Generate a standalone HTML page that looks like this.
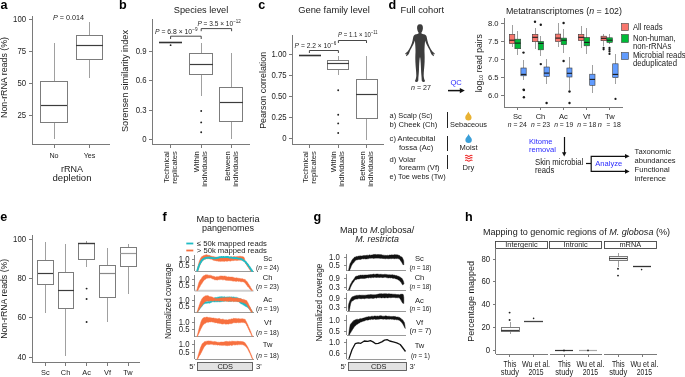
<!DOCTYPE html>
<html><head><meta charset="utf-8"><style>
html,body{margin:0;padding:0;background:#fff;}
svg{display:block;will-change:transform;}
text{font-family:"Liberation Sans", sans-serif;}
</style></head><body>
<svg width="685" height="377" viewBox="0 0 685 377">
<rect width="685" height="377" fill="#fff"/>
<text x="0.4" y="8.9" font-size="12.6" text-anchor="start" fill="#000" font-weight="bold" font-style="normal" >a</text>
<line x1="32.5" y1="16" x2="32.5" y2="144" stroke="#7a7a7a" stroke-width="1" />
<line x1="32" y1="144.5" x2="110" y2="144.5" stroke="#7a7a7a" stroke-width="1" />
<line x1="29" y1="19.5" x2="32" y2="19.5" stroke="#7a7a7a" stroke-width="1" />
<text x="26.1" y="22.000000000000007" font-size="7.8" text-anchor="end" fill="#222" font-weight="normal" font-style="normal" transform="matrix(1,0,0,1.06,0,-1.320)" >100</text>
<line x1="29" y1="51.5" x2="32" y2="51.5" stroke="#7a7a7a" stroke-width="1" />
<text x="26.1" y="54.04999999999999" font-size="7.8" text-anchor="end" fill="#222" font-weight="normal" font-style="normal" transform="matrix(1,0,0,1.06,0,-3.243)" >75</text>
<line x1="29" y1="83.5" x2="32" y2="83.5" stroke="#7a7a7a" stroke-width="1" />
<text x="26.1" y="86.1" font-size="7.8" text-anchor="end" fill="#222" font-weight="normal" font-style="normal" transform="matrix(1,0,0,1.06,0,-5.166)" >50</text>
<line x1="29" y1="115.5" x2="32" y2="115.5" stroke="#7a7a7a" stroke-width="1" />
<text x="26.1" y="118.14999999999999" font-size="7.8" text-anchor="end" fill="#222" font-weight="normal" font-style="normal" transform="matrix(1,0,0,1.06,0,-7.089)" >25</text>
<line x1="54.5" y1="144" x2="54.5" y2="148" stroke="#7a7a7a" stroke-width="1" />
<line x1="89.5" y1="144" x2="89.5" y2="148" stroke="#7a7a7a" stroke-width="1" />
<line x1="54.5" y1="43" x2="54.5" y2="81" stroke="#a0a0a0" stroke-width="1" />
<line x1="54.5" y1="122" x2="54.5" y2="139" stroke="#a0a0a0" stroke-width="1" />
<rect x="40.5" y="81.5" width="27.0" height="41.0" fill="none" stroke="#7c7c7c" stroke-width="1"/>
<line x1="41" y1="105.5" x2="67" y2="105.5" stroke="#3c3c3c" stroke-width="1.2" />
<line x1="89.5" y1="22" x2="89.5" y2="35" stroke="#a0a0a0" stroke-width="1" />
<line x1="89.5" y1="60" x2="89.5" y2="78" stroke="#a0a0a0" stroke-width="1" />
<rect x="76.5" y="35.5" width="26.0" height="24.0" fill="none" stroke="#7c7c7c" stroke-width="1"/>
<line x1="76" y1="45.5" x2="103" y2="45.5" stroke="#3c3c3c" stroke-width="1.2" />
<text x="53" y="19.6" font-size="7.2" text-anchor="start" fill="#222" font-weight="normal" font-style="normal" textLength="31" lengthAdjust="spacingAndGlyphs" transform="matrix(1,0,0,1.06,0,-1.176)" ><tspan font-style="italic">P</tspan> = 0.014</text>
<text x="54" y="158" font-size="7.2" text-anchor="middle" fill="#222" font-weight="normal" font-style="normal" transform="matrix(1,0,0,1.06,0,-9.480)" >No</text>
<text x="89.6" y="158" font-size="7.2" text-anchor="middle" fill="#222" font-weight="normal" font-style="normal" transform="matrix(1,0,0,1.06,0,-9.480)" >Yes</text>
<text x="72" y="172" font-size="9" text-anchor="middle" fill="#1a1a1a" font-weight="normal" font-style="normal" transform="matrix(1,0,0,1.06,0,-10.320)" >rRNA</text>
<text x="72" y="181" font-size="9" text-anchor="middle" fill="#1a1a1a" font-weight="normal" font-style="normal" textLength="39" lengthAdjust="spacingAndGlyphs" transform="matrix(1,0,0,1.06,0,-10.860)" >depletion</text>
<text x="7.5" y="77.5" font-size="8.6" text-anchor="middle" fill="#1a1a1a" font-weight="normal" font-style="normal" textLength="81" lengthAdjust="spacingAndGlyphs" transform="rotate(-90 7.5 77.5) matrix(1,0,0,1.06,0,-4.650)" >Non-rRNA reads (%)</text>
<text x="119.1" y="8.9" font-size="12.6" text-anchor="start" fill="#000" font-weight="bold" font-style="normal" >b</text>
<line x1="152.5" y1="19" x2="152.5" y2="144" stroke="#7a7a7a" stroke-width="1" />
<line x1="152" y1="144.5" x2="250" y2="144.5" stroke="#7a7a7a" stroke-width="1" />
<line x1="149" y1="139.5" x2="152" y2="139.5" stroke="#7a7a7a" stroke-width="1" />
<text x="146.6" y="142.1" font-size="7.8" text-anchor="end" fill="#222" font-weight="normal" font-style="normal" transform="matrix(1,0,0,1.06,0,-8.526)" >0</text>
<line x1="149" y1="110.5" x2="152" y2="110.5" stroke="#7a7a7a" stroke-width="1" />
<text x="146.6" y="112.67" font-size="7.8" text-anchor="end" fill="#222" font-weight="normal" font-style="normal" transform="matrix(1,0,0,1.06,0,-6.760)" >0.3</text>
<line x1="149" y1="80.5" x2="152" y2="80.5" stroke="#7a7a7a" stroke-width="1" />
<text x="146.6" y="83.24000000000001" font-size="7.8" text-anchor="end" fill="#222" font-weight="normal" font-style="normal" transform="matrix(1,0,0,1.06,0,-4.994)" >0.6</text>
<line x1="149" y1="51.5" x2="152" y2="51.5" stroke="#7a7a7a" stroke-width="1" />
<text x="146.6" y="53.81000000000001" font-size="7.8" text-anchor="end" fill="#222" font-weight="normal" font-style="normal" transform="matrix(1,0,0,1.06,0,-3.229)" >0.9</text>
<line x1="170.5" y1="144" x2="170.5" y2="148" stroke="#7a7a7a" stroke-width="1" />
<line x1="201.5" y1="144" x2="201.5" y2="148" stroke="#7a7a7a" stroke-width="1" />
<line x1="231.5" y1="144" x2="231.5" y2="148" stroke="#7a7a7a" stroke-width="1" />
<line x1="159" y1="42.5" x2="182" y2="42.5" stroke="#333" stroke-width="1.6" />
<circle cx="170.6" cy="45.2" r="0.9" fill="#222"/>
<line x1="201.5" y1="43" x2="201.5" y2="54" stroke="#a0a0a0" stroke-width="1" />
<line x1="201.5" y1="74" x2="201.5" y2="96" stroke="#a0a0a0" stroke-width="1" />
<rect x="189.5" y="53.5" width="23.0" height="21.0" fill="none" stroke="#7c7c7c" stroke-width="1"/>
<line x1="190" y1="64.5" x2="213" y2="64.5" stroke="#3c3c3c" stroke-width="1.2" />
<circle cx="201.2" cy="111" r="0.95" fill="#222"/>
<circle cx="201.2" cy="122.4" r="0.95" fill="#222"/>
<circle cx="201.2" cy="132.3" r="0.95" fill="#222"/>
<line x1="231.5" y1="53" x2="231.5" y2="88" stroke="#a0a0a0" stroke-width="1" />
<line x1="231.5" y1="122" x2="231.5" y2="139" stroke="#a0a0a0" stroke-width="1" />
<rect x="219.5" y="87.5" width="23.0" height="34.0" fill="none" stroke="#7c7c7c" stroke-width="1"/>
<line x1="220" y1="102.5" x2="243" y2="102.5" stroke="#3c3c3c" stroke-width="1.2" />
<polyline points="170.6,39 170.6,36.2 201.2,36.2 201.2,39" fill="none" stroke="#333" stroke-width="0.9"/>
<polyline points="201.2,31.2 201.2,28.6 231.6,28.6 231.6,31.2" fill="none" stroke="#333" stroke-width="0.9"/>
<text x="155" y="34" font-size="7" text-anchor="start" fill="#222" font-weight="normal" font-style="normal" textLength="42.5" lengthAdjust="spacingAndGlyphs" transform="matrix(1,0,0,1.06,0,-2.040)" ><tspan font-style="italic">P</tspan> = 6.8 × 10<tspan font-size="4.8" dy="-2.6">−9</tspan></text>
<text x="197.4" y="25.6" font-size="7" text-anchor="start" fill="#222" font-weight="normal" font-style="normal" textLength="43.4" lengthAdjust="spacingAndGlyphs" transform="matrix(1,0,0,1.06,0,-1.536)" ><tspan font-style="italic">P</tspan> = 3.5 × 10<tspan font-size="4.8" dy="-2.6">−12</tspan></text>
<text x="201" y="13.5" font-size="9.2" text-anchor="middle" fill="#1a1a1a" font-weight="normal" font-style="normal" textLength="54.4" lengthAdjust="spacingAndGlyphs" transform="matrix(1,0,0,1.06,0,-0.810)" >Species level</text>
<text x="127.6" y="81" font-size="9" text-anchor="middle" fill="#1a1a1a" font-weight="normal" font-style="normal" textLength="102" lengthAdjust="spacingAndGlyphs" transform="rotate(-90 127.6 81) matrix(1,0,0,1.06,0,-4.860)" >Sorensen similarity index</text>
<text x="169.29999999999998" y="151.2" font-size="7.6" text-anchor="end" fill="#222" font-weight="normal" font-style="normal" transform="rotate(-90 169.29999999999998 151.2) matrix(1,0,0,1.06,0,-9.072)" >Technical</text>
<text x="177.1" y="151.2" font-size="7.6" text-anchor="end" fill="#222" font-weight="normal" font-style="normal" transform="rotate(-90 177.1 151.2) matrix(1,0,0,1.06,0,-9.072)" >replicates</text>
<text x="199.1" y="151.2" font-size="7.6" text-anchor="end" fill="#222" font-weight="normal" font-style="normal" transform="rotate(-90 199.1 151.2) matrix(1,0,0,1.06,0,-9.072)" >Within</text>
<text x="206.9" y="151.2" font-size="7.6" text-anchor="end" fill="#222" font-weight="normal" font-style="normal" transform="rotate(-90 206.9 151.2) matrix(1,0,0,1.06,0,-9.072)" >individuals</text>
<text x="230.0" y="151.2" font-size="7.6" text-anchor="end" fill="#222" font-weight="normal" font-style="normal" transform="rotate(-90 230.0 151.2) matrix(1,0,0,1.06,0,-9.072)" >Between</text>
<text x="237.8" y="151.2" font-size="7.6" text-anchor="end" fill="#222" font-weight="normal" font-style="normal" transform="rotate(-90 237.8 151.2) matrix(1,0,0,1.06,0,-9.072)" >individuals</text>
<text x="258.3" y="8.9" font-size="12.6" text-anchor="start" fill="#000" font-weight="bold" font-style="normal" >c</text>
<line x1="292.5" y1="35" x2="292.5" y2="144" stroke="#7a7a7a" stroke-width="1" />
<line x1="292" y1="144.5" x2="384" y2="144.5" stroke="#7a7a7a" stroke-width="1" />
<line x1="289" y1="138.5" x2="292" y2="138.5" stroke="#7a7a7a" stroke-width="1" />
<text x="286.6" y="141.0" font-size="7.8" text-anchor="end" fill="#222" font-weight="normal" font-style="normal" transform="matrix(1,0,0,1.06,0,-8.460)" >0</text>
<line x1="289" y1="117.5" x2="292" y2="117.5" stroke="#7a7a7a" stroke-width="1" />
<text x="286.6" y="119.975" font-size="7.8" text-anchor="end" fill="#222" font-weight="normal" font-style="normal" transform="matrix(1,0,0,1.06,0,-7.199)" >0.25</text>
<line x1="289" y1="96.5" x2="292" y2="96.5" stroke="#7a7a7a" stroke-width="1" />
<text x="286.6" y="98.95" font-size="7.8" text-anchor="end" fill="#222" font-weight="normal" font-style="normal" transform="matrix(1,0,0,1.06,0,-5.937)" >0.50</text>
<line x1="289" y1="75.5" x2="292" y2="75.5" stroke="#7a7a7a" stroke-width="1" />
<text x="286.6" y="77.92500000000001" font-size="7.8" text-anchor="end" fill="#222" font-weight="normal" font-style="normal" transform="matrix(1,0,0,1.06,0,-4.676)" >0.75</text>
<line x1="289" y1="54.5" x2="292" y2="54.5" stroke="#7a7a7a" stroke-width="1" />
<text x="286.6" y="56.90000000000001" font-size="7.8" text-anchor="end" fill="#222" font-weight="normal" font-style="normal" transform="matrix(1,0,0,1.06,0,-3.414)" >1.00</text>
<line x1="309.5" y1="144" x2="309.5" y2="148" stroke="#7a7a7a" stroke-width="1" />
<line x1="338.5" y1="144" x2="338.5" y2="148" stroke="#7a7a7a" stroke-width="1" />
<line x1="366.5" y1="144" x2="366.5" y2="148" stroke="#7a7a7a" stroke-width="1" />
<line x1="299" y1="55.5" x2="321" y2="55.5" stroke="#333" stroke-width="1.6" />
<line x1="338.5" y1="56" x2="338.5" y2="60" stroke="#a0a0a0" stroke-width="1" />
<line x1="338.5" y1="69" x2="338.5" y2="75" stroke="#a0a0a0" stroke-width="1" />
<rect x="327.5" y="60.5" width="21.0" height="9.0" fill="none" stroke="#7c7c7c" stroke-width="1"/>
<line x1="327" y1="63.5" x2="349" y2="63.5" stroke="#3c3c3c" stroke-width="1.2" />
<circle cx="338.2" cy="90.2" r="0.95" fill="#222"/>
<circle cx="338.2" cy="114.8" r="0.95" fill="#222"/>
<circle cx="338.2" cy="123.4" r="0.95" fill="#222"/>
<circle cx="338.2" cy="133" r="0.95" fill="#222"/>
<line x1="366.5" y1="56" x2="366.5" y2="79" stroke="#a0a0a0" stroke-width="1" />
<line x1="366.5" y1="118" x2="366.5" y2="140" stroke="#a0a0a0" stroke-width="1" />
<rect x="356.5" y="79.5" width="21.0" height="39.0" fill="none" stroke="#7c7c7c" stroke-width="1"/>
<line x1="356" y1="94.5" x2="377" y2="94.5" stroke="#3c3c3c" stroke-width="1.2" />
<polyline points="309.4,53 309.4,50.5 338.4,50.5 338.4,53" fill="none" stroke="#333" stroke-width="0.9"/>
<polyline points="338.4,43 338.4,40.5 366.5,40.5 366.5,43" fill="none" stroke="#333" stroke-width="0.9"/>
<text x="294.6" y="47.7" font-size="7" text-anchor="start" fill="#222" font-weight="normal" font-style="normal" textLength="41.6" lengthAdjust="spacingAndGlyphs" transform="matrix(1,0,0,1.06,0,-2.862)" ><tspan font-style="italic">P</tspan> = 2.2 × 10<tspan font-size="4.8" dy="-2.6">−6</tspan></text>
<text x="338" y="37" font-size="7" text-anchor="start" fill="#222" font-weight="normal" font-style="normal" textLength="39.6" lengthAdjust="spacingAndGlyphs" transform="matrix(1,0,0,1.06,0,-2.220)" ><tspan font-style="italic">P</tspan> = 1.1 × 10<tspan font-size="4.8" dy="-2.6">−11</tspan></text>
<text x="334" y="13.5" font-size="9.2" text-anchor="middle" fill="#1a1a1a" font-weight="normal" font-style="normal" textLength="71.6" lengthAdjust="spacingAndGlyphs" transform="matrix(1,0,0,1.06,0,-0.810)" >Gene family level</text>
<text x="265.8" y="90.3" font-size="9.2" text-anchor="middle" fill="#1a1a1a" font-weight="normal" font-style="normal" textLength="77" lengthAdjust="spacingAndGlyphs" transform="rotate(-90 265.8 90.3) matrix(1,0,0,1.06,0,-5.418)" >Pearson correlation</text>
<text x="308.09999999999997" y="151.2" font-size="7.6" text-anchor="end" fill="#222" font-weight="normal" font-style="normal" transform="rotate(-90 308.09999999999997 151.2) matrix(1,0,0,1.06,0,-9.072)" >Technical</text>
<text x="315.9" y="151.2" font-size="7.6" text-anchor="end" fill="#222" font-weight="normal" font-style="normal" transform="rotate(-90 315.9 151.2) matrix(1,0,0,1.06,0,-9.072)" >replicates</text>
<text x="336.3" y="151.2" font-size="7.6" text-anchor="end" fill="#222" font-weight="normal" font-style="normal" transform="rotate(-90 336.3 151.2) matrix(1,0,0,1.06,0,-9.072)" >Within</text>
<text x="344.1" y="151.2" font-size="7.6" text-anchor="end" fill="#222" font-weight="normal" font-style="normal" transform="rotate(-90 344.1 151.2) matrix(1,0,0,1.06,0,-9.072)" >individuals</text>
<text x="365.2" y="151.2" font-size="7.6" text-anchor="end" fill="#222" font-weight="normal" font-style="normal" transform="rotate(-90 365.2 151.2) matrix(1,0,0,1.06,0,-9.072)" >Between</text>
<text x="373.0" y="151.2" font-size="7.6" text-anchor="end" fill="#222" font-weight="normal" font-style="normal" transform="rotate(-90 373.0 151.2) matrix(1,0,0,1.06,0,-9.072)" >individuals</text>
<text x="388.4" y="8.9" font-size="12.6" text-anchor="start" fill="#000" font-weight="bold" font-style="normal" >d</text>
<text x="400.6" y="12.6" font-size="9" text-anchor="start" fill="#1a1a1a" font-weight="normal" font-style="normal" textLength="43.4" lengthAdjust="spacingAndGlyphs" transform="matrix(1,0,0,1.06,0,-0.756)" >Full cohort</text>
<path d="M419.8,24.3 C417.6,24.3 416.9,26.3 417.1,28.4 C417.3,30.3 418,31.8 418.6,32.4 L418.5,33.6 C417.2,34.2 415.2,34.4 414.2,35.2 C413.2,36.1 413.1,38 412.6,40.5 C411.8,44.5 409.6,49 407.6,51.5 C406.3,52.6 405.2,53.3 405,54.2 C405.6,54.3 406.4,53.8 406.9,53.6 C406.4,54.8 405.8,55.6 406.2,56.2 C407.1,55.8 408.3,54.8 409,53.5 C409.8,51.8 410,50.4 411.2,48.5 C412.8,45.6 414.3,42.6 414.9,40.5 C415.2,44.2 415.6,48.5 415.5,52 C415.3,55.5 415.3,58.2 415.4,62 C415.6,67.2 416.3,71.5 416.3,75.5 C416.3,77.8 415.6,79.6 415.1,80.6 C414.8,81.4 415.3,82 416.6,81.9 C417.9,81.8 418.3,81.2 418.3,79.8 C418.3,77 418.9,73.8 419,69 C419.1,65.5 419.3,61 419.8,57.5 L420.2,57.5 C420.7,61 420.9,65.5 421,69 C421.1,73.8 421.7,77 421.7,79.8 C421.7,81.2 422.1,81.8 423.4,81.9 C424.7,82 425.2,81.4 424.9,80.6 C424.4,79.6 423.7,77.8 423.7,75.5 C423.7,71.5 424.4,67.2 424.6,62 C424.7,58.2 424.7,55.5 424.5,52 C424.4,48.5 424.8,44.2 425.1,40.5 C425.7,42.6 427.2,45.6 428.8,48.5 C430,50.4 430.2,51.8 431,53.5 C431.7,54.8 432.9,55.8 433.8,56.2 C434.2,55.6 433.6,54.8 433.1,53.6 C433.6,53.8 434.4,54.3 435,54.2 C434.8,53.3 433.7,52.6 432.4,51.5 C430.4,49 428.2,44.5 427.4,40.5 C426.9,38 426.8,36.1 425.8,35.2 C424.8,34.4 422.8,34.2 421.5,33.6 L421.4,32.4 C422,31.8 422.7,30.3 422.9,28.4 C423.1,26.3 422.4,24.3 420.2,24.3 Z" fill="#3d3d3d"/>
<text x="411" y="90" font-size="7.2" text-anchor="start" fill="#222" font-weight="normal" font-style="normal" textLength="20" lengthAdjust="spacingAndGlyphs" transform="matrix(1,0,0,1.06,0,-5.400)" ><tspan font-style="italic">n</tspan> = 27</text>
<text x="450.4" y="85" font-size="7.6" text-anchor="start" fill="#2b2bff" font-weight="normal" font-style="normal" transform="matrix(1,0,0,1.06,0,-5.100)" >QC</text>
<line x1="448" y1="90.6" x2="461" y2="90.6" stroke="#111" stroke-width="1.5" />
<path d="M459.8,88 L464.8,90.6 L459.8,93.2 Z" fill="#111"/>
<text x="389.6" y="118" font-size="7.6" text-anchor="start" fill="#222" font-weight="normal" font-style="normal" textLength="42.8" lengthAdjust="spacingAndGlyphs" transform="matrix(1,0,0,1.06,0,-7.080)" >a) Scalp (Sc)</text>
<text x="389.6" y="127" font-size="7.6" text-anchor="start" fill="#222" font-weight="normal" font-style="normal" transform="matrix(1,0,0,1.06,0,-7.620)" >b) Cheek (Ch)</text>
<text x="389.6" y="141.5" font-size="7.6" text-anchor="start" fill="#222" font-weight="normal" font-style="normal" transform="matrix(1,0,0,1.06,0,-8.490)" >c) Antecubital</text>
<text x="399" y="149.7" font-size="7.6" text-anchor="start" fill="#222" font-weight="normal" font-style="normal" transform="matrix(1,0,0,1.06,0,-8.982)" >fossa (Ac)</text>
<text x="389.6" y="161.6" font-size="7.6" text-anchor="start" fill="#222" font-weight="normal" font-style="normal" transform="matrix(1,0,0,1.06,0,-9.696)" >d) Volar</text>
<text x="399" y="170" font-size="7.6" text-anchor="start" fill="#222" font-weight="normal" font-style="normal" transform="matrix(1,0,0,1.06,0,-10.200)" >forearm (Vf)</text>
<text x="389.6" y="179" font-size="7.6" text-anchor="start" fill="#222" font-weight="normal" font-style="normal" textLength="56" lengthAdjust="spacingAndGlyphs" transform="matrix(1,0,0,1.06,0,-10.740)" >e) Toe webs (Tw)</text>
<line x1="447.5" y1="112" x2="447.5" y2="128" stroke="#222" stroke-width="1" />
<line x1="447.5" y1="136" x2="447.5" y2="151" stroke="#222" stroke-width="1" />
<line x1="447.5" y1="155" x2="447.5" y2="169" stroke="#222" stroke-width="1" />
<path d="M468.4,111.6 C469.0,113.8 471.568,115.3312 471.568,117.232 A3.168000000000004,3.168000000000004 0 0 1 465.23199999999997,117.232 C465.23199999999997,115.3312 467.79999999999995,113.8 468.4,111.6 Z" fill="#e9b232"/>
<path d="M468.6,134 C469.20000000000005,136.25 471.84000000000003,137.816 471.84000000000003,139.76 A3.2399999999999998,3.2399999999999998 0 0 1 465.36,139.76 C465.36,137.816 468.0,136.25 468.6,134 Z" fill="#3b9fd8"/>
<text x="450" y="127" font-size="7.6" text-anchor="start" fill="#222" font-weight="normal" font-style="normal" textLength="37" lengthAdjust="spacingAndGlyphs" transform="matrix(1,0,0,1.06,0,-7.620)" >Sebaceous</text>
<text x="459.6" y="150.3" font-size="7.6" text-anchor="start" fill="#222" font-weight="normal" font-style="normal" textLength="18" lengthAdjust="spacingAndGlyphs" transform="matrix(1,0,0,1.06,0,-9.018)" >Moist</text>
<text x="462.6" y="170" font-size="7.6" text-anchor="start" fill="#222" font-weight="normal" font-style="normal" transform="matrix(1,0,0,1.06,0,-10.200)" >Dry</text>
<path d="M465.2,155.8 q1.2,-1.2 2.4,0 t2.4,0 t2.4,0" fill="none" stroke="#ee2a2a" stroke-width="1.05"/>
<path d="M465.2,158.2 q1.2,-1.2 2.4,0 t2.4,0 t2.4,0" fill="none" stroke="#ee2a2a" stroke-width="1.05"/>
<path d="M465.2,160.6 q1.2,-1.2 2.4,0 t2.4,0 t2.4,0" fill="none" stroke="#ee2a2a" stroke-width="1.05"/>
<text x="506" y="14" font-size="8.8" text-anchor="start" fill="#1a1a1a" font-weight="normal" font-style="normal" textLength="116" lengthAdjust="spacingAndGlyphs" transform="matrix(1,0,0,1.06,0,-0.840)" >Metatranscriptomes (<tspan font-style="italic">n</tspan> = 102)</text>
<line x1="504.5" y1="18" x2="504.5" y2="107" stroke="#7a7a7a" stroke-width="1" />
<line x1="504" y1="107.5" x2="623" y2="107.5" stroke="#7a7a7a" stroke-width="1" />
<line x1="501" y1="23.5" x2="504" y2="23.5" stroke="#7a7a7a" stroke-width="1" />
<text x="498.6" y="25.8" font-size="7.6" text-anchor="end" fill="#222" font-weight="normal" font-style="normal" transform="matrix(1,0,0,1.06,0,-1.548)" >8.0</text>
<line x1="501" y1="41.5" x2="504" y2="41.5" stroke="#7a7a7a" stroke-width="1" />
<text x="498.6" y="43.8" font-size="7.6" text-anchor="end" fill="#222" font-weight="normal" font-style="normal" transform="matrix(1,0,0,1.06,0,-2.628)" >7.5</text>
<line x1="501" y1="59.5" x2="504" y2="59.5" stroke="#7a7a7a" stroke-width="1" />
<text x="498.6" y="61.8" font-size="7.6" text-anchor="end" fill="#222" font-weight="normal" font-style="normal" transform="matrix(1,0,0,1.06,0,-3.708)" >7.0</text>
<line x1="501" y1="77.5" x2="504" y2="77.5" stroke="#7a7a7a" stroke-width="1" />
<text x="498.6" y="79.8" font-size="7.6" text-anchor="end" fill="#222" font-weight="normal" font-style="normal" transform="matrix(1,0,0,1.06,0,-4.788)" >6.5</text>
<line x1="501" y1="95.5" x2="504" y2="95.5" stroke="#7a7a7a" stroke-width="1" />
<text x="498.6" y="97.8" font-size="7.6" text-anchor="end" fill="#222" font-weight="normal" font-style="normal" transform="matrix(1,0,0,1.06,0,-5.868)" >6.0</text>
<text x="481.6" y="63.2" font-size="8.6" text-anchor="middle" fill="#1a1a1a" font-weight="normal" font-style="normal" transform="rotate(-90 481.6 63.2) matrix(1,0,0,1.06,0,-3.792)" >log<tspan font-size="5.5" dy="1.8">10</tspan><tspan dy="-1.8"> read pairs</tspan></text>
<line x1="512.5" y1="25" x2="512.5" y2="34" stroke="#a0a0a0" stroke-width="1" />
<line x1="512.5" y1="44" x2="512.5" y2="47" stroke="#a0a0a0" stroke-width="1" />
<rect x="509.3" y="34.3" width="5.499999999999943" height="9.300000000000004" fill="#f8766d" stroke="#3a3a3a" stroke-width="0.6"/>
<line x1="509.3" y1="40.2" x2="514.8" y2="40.2" stroke="#1a1a1a" stroke-width="1.1" />
<line x1="517.5" y1="31" x2="517.5" y2="39" stroke="#a0a0a0" stroke-width="1" />
<line x1="517.5" y1="49" x2="517.5" y2="55" stroke="#a0a0a0" stroke-width="1" />
<rect x="514.9" y="39.2" width="5.800000000000068" height="9.5" fill="#00ba38" stroke="#3a3a3a" stroke-width="0.6"/>
<line x1="514.9" y1="43.1" x2="520.7" y2="43.1" stroke="#1a1a1a" stroke-width="1.1" />
<line x1="523.5" y1="60" x2="523.5" y2="68" stroke="#a0a0a0" stroke-width="1" />
<line x1="523.5" y1="76" x2="523.5" y2="80" stroke="#a0a0a0" stroke-width="1" />
<rect x="520.9" y="68" width="5.300000000000068" height="7.799999999999997" fill="#619cff" stroke="#3a3a3a" stroke-width="0.6"/>
<line x1="520.9" y1="74.4" x2="526.2" y2="74.4" stroke="#1a1a1a" stroke-width="1.1" />
<circle cx="523.5" cy="52.6" r="1.2" fill="#1a1a1a"/>
<circle cx="523.7" cy="89.6" r="1.2" fill="#1a1a1a"/>
<circle cx="523.9" cy="90.1" r="1.2" fill="#1a1a1a"/>
<circle cx="523.9" cy="97.3" r="1.2" fill="#1a1a1a"/>
<line x1="535.5" y1="28" x2="535.5" y2="34" stroke="#a0a0a0" stroke-width="1" />
<line x1="535.5" y1="42" x2="535.5" y2="49" stroke="#a0a0a0" stroke-width="1" />
<rect x="532.3" y="34.3" width="5.600000000000023" height="7.400000000000006" fill="#f8766d" stroke="#3a3a3a" stroke-width="0.6"/>
<line x1="532.3" y1="37.3" x2="537.9" y2="37.3" stroke="#1a1a1a" stroke-width="1.1" />
<line x1="540.5" y1="36" x2="540.5" y2="42" stroke="#a0a0a0" stroke-width="1" />
<line x1="540.5" y1="50" x2="540.5" y2="56" stroke="#a0a0a0" stroke-width="1" />
<rect x="538.2" y="41.5" width="5.2999999999999545" height="8.299999999999997" fill="#00ba38" stroke="#3a3a3a" stroke-width="0.6"/>
<line x1="538.2" y1="43.4" x2="543.5" y2="43.4" stroke="#1a1a1a" stroke-width="1.1" />
<line x1="546.5" y1="59" x2="546.5" y2="67" stroke="#a0a0a0" stroke-width="1" />
<line x1="546.5" y1="76" x2="546.5" y2="84" stroke="#a0a0a0" stroke-width="1" />
<rect x="544" y="67" width="5.2999999999999545" height="9.5" fill="#619cff" stroke="#3a3a3a" stroke-width="0.6"/>
<line x1="544" y1="73.1" x2="549.3" y2="73.1" stroke="#1a1a1a" stroke-width="1.1" />
<circle cx="535" cy="21.7" r="1.2" fill="#1a1a1a"/>
<circle cx="540.8" cy="24.8" r="1.2" fill="#1a1a1a"/>
<circle cx="540.8" cy="64.1" r="1.2" fill="#1a1a1a"/>
<circle cx="546.6" cy="103" r="1.2" fill="#1a1a1a"/>
<line x1="558.5" y1="23" x2="558.5" y2="34" stroke="#a0a0a0" stroke-width="1" />
<line x1="558.5" y1="42" x2="558.5" y2="47" stroke="#a0a0a0" stroke-width="1" />
<rect x="555.4" y="34.1" width="5.300000000000068" height="7.399999999999999" fill="#f8766d" stroke="#3a3a3a" stroke-width="0.6"/>
<line x1="555.4" y1="38.1" x2="560.7" y2="38.1" stroke="#1a1a1a" stroke-width="1.1" />
<line x1="563.5" y1="29" x2="563.5" y2="38" stroke="#a0a0a0" stroke-width="1" />
<line x1="563.5" y1="45" x2="563.5" y2="53" stroke="#a0a0a0" stroke-width="1" />
<rect x="561.2" y="38.1" width="5.399999999999977" height="6.600000000000001" fill="#00ba38" stroke="#3a3a3a" stroke-width="0.6"/>
<line x1="561.2" y1="40.2" x2="566.6" y2="40.2" stroke="#1a1a1a" stroke-width="1.1" />
<line x1="569.5" y1="57" x2="569.5" y2="68" stroke="#a0a0a0" stroke-width="1" />
<line x1="569.5" y1="77" x2="569.5" y2="90" stroke="#a0a0a0" stroke-width="1" />
<rect x="566.9" y="68" width="5.100000000000023" height="9" fill="#619cff" stroke="#3a3a3a" stroke-width="0.6"/>
<line x1="566.9" y1="73.3" x2="572" y2="73.3" stroke="#1a1a1a" stroke-width="1.1" />
<circle cx="563.6" cy="23" r="1.2" fill="#1a1a1a"/>
<circle cx="563.6" cy="61" r="1.2" fill="#1a1a1a"/>
<circle cx="569.5" cy="91.5" r="1.2" fill="#1a1a1a"/>
<circle cx="569.5" cy="103" r="1.2" fill="#1a1a1a"/>
<line x1="581.5" y1="26" x2="581.5" y2="34" stroke="#a0a0a0" stroke-width="1" />
<line x1="581.5" y1="40" x2="581.5" y2="48" stroke="#a0a0a0" stroke-width="1" />
<rect x="578.3" y="34.4" width="5.600000000000023" height="6.100000000000001" fill="#f8766d" stroke="#3a3a3a" stroke-width="0.6"/>
<line x1="578.3" y1="37.3" x2="583.9" y2="37.3" stroke="#1a1a1a" stroke-width="1.1" />
<line x1="586.5" y1="28" x2="586.5" y2="38" stroke="#a0a0a0" stroke-width="1" />
<line x1="586.5" y1="46" x2="586.5" y2="54" stroke="#a0a0a0" stroke-width="1" />
<rect x="584.1" y="37.5" width="5.5" height="8.299999999999997" fill="#00ba38" stroke="#3a3a3a" stroke-width="0.6"/>
<line x1="584.1" y1="42.4" x2="589.6" y2="42.4" stroke="#1a1a1a" stroke-width="1.1" />
<line x1="592.5" y1="65" x2="592.5" y2="74" stroke="#a0a0a0" stroke-width="1" />
<line x1="592.5" y1="85" x2="592.5" y2="93" stroke="#a0a0a0" stroke-width="1" />
<rect x="589.7" y="74.2" width="5.2999999999999545" height="11.099999999999994" fill="#619cff" stroke="#3a3a3a" stroke-width="0.6"/>
<line x1="589.7" y1="79.4" x2="595" y2="79.4" stroke="#1a1a1a" stroke-width="1.1" />
<line x1="603.5" y1="34" x2="603.5" y2="36" stroke="#a0a0a0" stroke-width="1" />
<line x1="603.5" y1="41" x2="603.5" y2="46" stroke="#a0a0a0" stroke-width="1" />
<rect x="601" y="36.2" width="5.600000000000023" height="4.5" fill="#f8766d" stroke="#3a3a3a" stroke-width="0.6"/>
<line x1="601" y1="38.3" x2="606.6" y2="38.3" stroke="#1a1a1a" stroke-width="1.1" />
<line x1="609.5" y1="34" x2="609.5" y2="38" stroke="#a0a0a0" stroke-width="1" />
<line x1="609.5" y1="42" x2="609.5" y2="44" stroke="#a0a0a0" stroke-width="1" />
<rect x="606.9" y="37.8" width="5.5" height="4.600000000000001" fill="#00ba38" stroke="#3a3a3a" stroke-width="0.6"/>
<line x1="606.9" y1="40.2" x2="612.4" y2="40.2" stroke="#1a1a1a" stroke-width="1.1" />
<line x1="615.5" y1="54" x2="615.5" y2="64" stroke="#a0a0a0" stroke-width="1" />
<line x1="615.5" y1="78" x2="615.5" y2="84" stroke="#a0a0a0" stroke-width="1" />
<rect x="612.7" y="63.8" width="5.399999999999977" height="13.799999999999997" fill="#619cff" stroke="#3a3a3a" stroke-width="0.6"/>
<line x1="612.7" y1="74.4" x2="618.1" y2="74.4" stroke="#1a1a1a" stroke-width="1.1" />
<circle cx="603.6" cy="47.8" r="1.1" fill="#1a1a1a"/>
<circle cx="603.6" cy="49.3" r="1.1" fill="#1a1a1a"/>
<circle cx="609.5" cy="47.9" r="1.1" fill="#1a1a1a"/>
<circle cx="609.5" cy="49.7" r="1.1" fill="#1a1a1a"/>
<circle cx="609.5" cy="51.4" r="1.1" fill="#1a1a1a"/>
<circle cx="609.5" cy="53.9" r="1.1" fill="#1a1a1a"/>
<circle cx="615.5" cy="98.9" r="1.1" fill="#1a1a1a"/>
<line x1="517.5" y1="107" x2="517.5" y2="110" stroke="#7a7a7a" stroke-width="1" />
<text x="517.4" y="118.7" font-size="7.6" text-anchor="middle" fill="#222" font-weight="normal" font-style="normal" transform="matrix(1,0,0,1.06,0,-7.122)" >Sc</text>
<line x1="540.5" y1="107" x2="540.5" y2="110" stroke="#7a7a7a" stroke-width="1" />
<text x="540.5" y="118.7" font-size="7.6" text-anchor="middle" fill="#222" font-weight="normal" font-style="normal" transform="matrix(1,0,0,1.06,0,-7.122)" >Ch</text>
<line x1="563.5" y1="107" x2="563.5" y2="110" stroke="#7a7a7a" stroke-width="1" />
<text x="563.4" y="118.7" font-size="7.6" text-anchor="middle" fill="#222" font-weight="normal" font-style="normal" transform="matrix(1,0,0,1.06,0,-7.122)" >Ac</text>
<line x1="586.5" y1="107" x2="586.5" y2="110" stroke="#7a7a7a" stroke-width="1" />
<text x="586.5" y="118.7" font-size="7.6" text-anchor="middle" fill="#222" font-weight="normal" font-style="normal" transform="matrix(1,0,0,1.06,0,-7.122)" >Vf</text>
<line x1="609.5" y1="107" x2="609.5" y2="110" stroke="#7a7a7a" stroke-width="1" />
<text x="609.8" y="118.7" font-size="7.6" text-anchor="middle" fill="#222" font-weight="normal" font-style="normal" transform="matrix(1,0,0,1.06,0,-7.122)" >Tw</text>
<text x="507.8" y="127.1" font-size="7.4" text-anchor="start" fill="#222" font-weight="normal" font-style="normal" textLength="19" lengthAdjust="spacingAndGlyphs" transform="matrix(1,0,0,1.06,0,-7.626)" ><tspan font-style="italic">n</tspan> = 24</text>
<text x="531" y="127.1" font-size="7.4" text-anchor="start" fill="#222" font-weight="normal" font-style="normal" textLength="19" lengthAdjust="spacingAndGlyphs" transform="matrix(1,0,0,1.06,0,-7.626)" ><tspan font-style="italic">n</tspan> = 23</text>
<text x="554.2" y="127.1" font-size="7.4" text-anchor="start" fill="#222" font-weight="normal" font-style="normal" textLength="19" lengthAdjust="spacingAndGlyphs" transform="matrix(1,0,0,1.06,0,-7.626)" ><tspan font-style="italic">n</tspan> = 19</text>
<text x="577.3" y="127.1" font-size="7.4" text-anchor="start" fill="#222" font-weight="normal" font-style="normal" textLength="19" lengthAdjust="spacingAndGlyphs" transform="matrix(1,0,0,1.06,0,-7.626)" ><tspan font-style="italic">n</tspan> = 18</text>
<text x="597.8" y="127.1" font-size="7.4" text-anchor="start" fill="#222" font-weight="normal" font-style="normal" transform="matrix(1,0,0,1.06,0,-7.626)" ><tspan font-style="italic">n</tspan></text>
<text x="608.3" y="126.9" font-size="6.4" text-anchor="middle" fill="#222" font-weight="normal" font-style="normal" transform="matrix(1,0,0,1.06,0,-7.614)" >=</text>
<text x="613.1" y="127.1" font-size="7.6" text-anchor="start" fill="#222" font-weight="normal" font-style="normal" textLength="7.7" lengthAdjust="spacingAndGlyphs" transform="matrix(1,0,0,1.06,0,-7.626)" >18</text>
<rect x="621.5" y="23.5" width="7.0" height="7.0" fill="#f8766d" stroke="#444" stroke-width="0.6"/>
<rect x="621.5" y="34.5" width="7.0" height="8.0" fill="#00ba38" stroke="#444" stroke-width="0.6"/>
<rect x="621.5" y="52.5" width="7.0" height="7.0" fill="#619cff" stroke="#444" stroke-width="0.6"/>
<text x="632.9" y="29.9" font-size="7.8" text-anchor="start" fill="#222" font-weight="normal" font-style="normal" textLength="29.8" lengthAdjust="spacingAndGlyphs" transform="matrix(1,0,0,1.06,0,-1.794)" >All reads</text>
<text x="632.9" y="40.8" font-size="7.8" text-anchor="start" fill="#222" font-weight="normal" font-style="normal" transform="matrix(1,0,0,1.06,0,-2.448)" >Non-human,</text>
<text x="632.9" y="48.8" font-size="7.8" text-anchor="start" fill="#222" font-weight="normal" font-style="normal" transform="matrix(1,0,0,1.06,0,-2.928)" >non-rRNAs</text>
<text x="632.9" y="57.8" font-size="7.8" text-anchor="start" fill="#222" font-weight="normal" font-style="normal" transform="matrix(1,0,0,1.06,0,-3.468)" >Microbial reads</text>
<text x="632.9" y="65.7" font-size="7.8" text-anchor="start" fill="#222" font-weight="normal" font-style="normal" transform="matrix(1,0,0,1.06,0,-3.942)" >deduplicated</text>
<text x="529" y="143.7" font-size="7.6" text-anchor="start" fill="#2b2bff" font-weight="normal" font-style="normal" textLength="23.5" lengthAdjust="spacingAndGlyphs" transform="matrix(1,0,0,1.06,0,-8.622)" >Kitome</text>
<text x="529" y="152.5" font-size="7.6" text-anchor="start" fill="#2b2bff" font-weight="normal" font-style="normal" transform="matrix(1,0,0,1.06,0,-9.150)" >removal</text>
<line x1="564.5" y1="137" x2="564.5" y2="153" stroke="#111" stroke-width="1.2" />
<path d="M562,152.2 L564.2,156.6 L566.4,152.2 Z" fill="#111"/>
<text x="535" y="164.9" font-size="7.7" text-anchor="start" fill="#222" font-weight="normal" font-style="normal" textLength="48.4" lengthAdjust="spacingAndGlyphs" transform="matrix(1,0,0,1.06,0,-9.894)" >Skin microbial</text>
<text x="535" y="173.5" font-size="7.7" text-anchor="start" fill="#222" font-weight="normal" font-style="normal" transform="matrix(1,0,0,1.06,0,-10.410)" >reads</text>
<line x1="586" y1="163.5" x2="591" y2="163.5" stroke="#111" stroke-width="1.2" />
<polyline points="626,156.3 591.2,156.3 591.2,171.4 626,171.4" fill="none" stroke="#111" stroke-width="1.2"/>
<path d="M625,154 L629.6,156.3 L625,158.6 Z" fill="#111"/>
<path d="M625,169.1 L629.6,171.4 L625,173.7 Z" fill="#111"/>
<text x="595.2" y="166.3" font-size="7.6" text-anchor="start" fill="#2b2bff" font-weight="normal" font-style="normal" textLength="27" lengthAdjust="spacingAndGlyphs" transform="matrix(1,0,0,1.06,0,-9.978)" >Analyze</text>
<text x="634.6" y="153.9" font-size="7.6" text-anchor="start" fill="#222" font-weight="normal" font-style="normal" textLength="36.5" lengthAdjust="spacingAndGlyphs" transform="matrix(1,0,0,1.06,0,-9.234)" >Taxonomic</text>
<text x="634.6" y="162.6" font-size="7.6" text-anchor="start" fill="#222" font-weight="normal" font-style="normal" textLength="41" lengthAdjust="spacingAndGlyphs" transform="matrix(1,0,0,1.06,0,-9.756)" >abundances</text>
<text x="634.6" y="172.1" font-size="7.6" text-anchor="start" fill="#222" font-weight="normal" font-style="normal" textLength="35.1" lengthAdjust="spacingAndGlyphs" transform="matrix(1,0,0,1.06,0,-10.326)" >Functional</text>
<text x="634.6" y="180.6" font-size="7.6" text-anchor="start" fill="#222" font-weight="normal" font-style="normal" textLength="31.4" lengthAdjust="spacingAndGlyphs" transform="matrix(1,0,0,1.06,0,-10.836)" >inference</text>
<text x="0.2" y="220.8" font-size="12.6" text-anchor="start" fill="#000" font-weight="bold" font-style="normal" >e</text>
<line x1="32.5" y1="235" x2="32.5" y2="362" stroke="#7a7a7a" stroke-width="1" />
<line x1="32" y1="362.5" x2="140" y2="362.5" stroke="#7a7a7a" stroke-width="1" />
<line x1="29" y1="239.5" x2="32" y2="239.5" stroke="#7a7a7a" stroke-width="1" />
<text x="26.1" y="242.0" font-size="7.8" text-anchor="end" fill="#222" font-weight="normal" font-style="normal" transform="matrix(1,0,0,1.06,0,-14.520)" >100</text>
<line x1="29" y1="278.5" x2="32" y2="278.5" stroke="#7a7a7a" stroke-width="1" />
<text x="26.1" y="281.20000000000005" font-size="7.8" text-anchor="end" fill="#222" font-weight="normal" font-style="normal" transform="matrix(1,0,0,1.06,0,-16.872)" >80</text>
<line x1="29" y1="317.5" x2="32" y2="317.5" stroke="#7a7a7a" stroke-width="1" />
<text x="26.1" y="320.40000000000003" font-size="7.8" text-anchor="end" fill="#222" font-weight="normal" font-style="normal" transform="matrix(1,0,0,1.06,0,-19.224)" >60</text>
<line x1="29" y1="357.5" x2="32" y2="357.5" stroke="#7a7a7a" stroke-width="1" />
<text x="26.1" y="359.6" font-size="7.8" text-anchor="end" fill="#222" font-weight="normal" font-style="normal" transform="matrix(1,0,0,1.06,0,-21.576)" >40</text>
<line x1="45.5" y1="362" x2="45.5" y2="366" stroke="#7a7a7a" stroke-width="1" />
<text x="45.4" y="375.4" font-size="7.4" text-anchor="middle" fill="#222" font-weight="normal" font-style="normal" transform="matrix(1,0,0,1.06,0,-22.524)" >Sc</text>
<line x1="65.5" y1="362" x2="65.5" y2="366" stroke="#7a7a7a" stroke-width="1" />
<text x="65.6" y="375.4" font-size="7.4" text-anchor="middle" fill="#222" font-weight="normal" font-style="normal" transform="matrix(1,0,0,1.06,0,-22.524)" >Ch</text>
<line x1="86.5" y1="362" x2="86.5" y2="366" stroke="#7a7a7a" stroke-width="1" />
<text x="86.6" y="375.4" font-size="7.4" text-anchor="middle" fill="#222" font-weight="normal" font-style="normal" transform="matrix(1,0,0,1.06,0,-22.524)" >Ac</text>
<line x1="107.5" y1="362" x2="107.5" y2="366" stroke="#7a7a7a" stroke-width="1" />
<text x="107.6" y="375.4" font-size="7.4" text-anchor="middle" fill="#222" font-weight="normal" font-style="normal" transform="matrix(1,0,0,1.06,0,-22.524)" >Vf</text>
<line x1="128.5" y1="362" x2="128.5" y2="366" stroke="#7a7a7a" stroke-width="1" />
<text x="128" y="375.4" font-size="7.4" text-anchor="middle" fill="#222" font-weight="normal" font-style="normal" transform="matrix(1,0,0,1.06,0,-22.524)" >Tw</text>
<line x1="45.5" y1="242" x2="45.5" y2="260" stroke="#a0a0a0" stroke-width="1" />
<line x1="45.5" y1="284" x2="45.5" y2="313" stroke="#a0a0a0" stroke-width="1" />
<rect x="37.5" y="260.5" width="16.0" height="24.0" fill="none" stroke="#7c7c7c" stroke-width="1"/>
<line x1="38" y1="273.5" x2="53" y2="273.5" stroke="#3c3c3c" stroke-width="1.2" />
<line x1="65.5" y1="244" x2="65.5" y2="272" stroke="#a0a0a0" stroke-width="1" />
<line x1="65.5" y1="308" x2="65.5" y2="356" stroke="#a0a0a0" stroke-width="1" />
<rect x="58.5" y="272.5" width="15.0" height="36.0" fill="none" stroke="#7c7c7c" stroke-width="1"/>
<line x1="58" y1="290.5" x2="74" y2="290.5" stroke="#3c3c3c" stroke-width="1.2" />
<line x1="86.5" y1="241" x2="86.5" y2="243" stroke="#a0a0a0" stroke-width="1" />
<line x1="86.5" y1="259" x2="86.5" y2="267" stroke="#a0a0a0" stroke-width="1" />
<rect x="78.5" y="243.5" width="16.0" height="16.0" fill="none" stroke="#7c7c7c" stroke-width="1"/>
<line x1="78" y1="243.5" x2="95" y2="243.5" stroke="#3c3c3c" stroke-width="1.4" />
<circle cx="86.6" cy="288.6" r="0.95" fill="#222"/>
<circle cx="86.6" cy="299" r="0.95" fill="#222"/>
<circle cx="86.6" cy="322" r="0.95" fill="#222"/>
<line x1="107.5" y1="248" x2="107.5" y2="265" stroke="#a0a0a0" stroke-width="1" />
<line x1="107.5" y1="298" x2="107.5" y2="322" stroke="#a0a0a0" stroke-width="1" />
<rect x="99.5" y="265.5" width="16.0" height="32.0" fill="none" stroke="#7c7c7c" stroke-width="1"/>
<line x1="100" y1="273.5" x2="115" y2="273.5" stroke="#888" stroke-width="1.2" />
<line x1="128.5" y1="244" x2="128.5" y2="247" stroke="#a0a0a0" stroke-width="1" />
<line x1="128.5" y1="266" x2="128.5" y2="294" stroke="#a0a0a0" stroke-width="1" />
<rect x="120.5" y="247.5" width="16.0" height="19.0" fill="none" stroke="#7c7c7c" stroke-width="1"/>
<line x1="120" y1="253.5" x2="136" y2="253.5" stroke="#999" stroke-width="1.2" />
<text x="7.2" y="298.8" font-size="8.6" text-anchor="middle" fill="#1a1a1a" font-weight="normal" font-style="normal" textLength="80" lengthAdjust="spacingAndGlyphs" transform="rotate(-90 7.2 298.8) matrix(1,0,0,1.06,0,-17.928)" >Non-rRNA reads (%)</text>
<text x="162.6" y="220.8" font-size="12.6" text-anchor="start" fill="#000" font-weight="bold" font-style="normal" >f</text>
<text x="228" y="222" font-size="9" text-anchor="middle" fill="#1a1a1a" font-weight="normal" font-style="normal" textLength="63" lengthAdjust="spacingAndGlyphs" transform="matrix(1,0,0,1.06,0,-13.320)" >Map to bacteria</text>
<text x="228" y="231" font-size="9" text-anchor="middle" fill="#1a1a1a" font-weight="normal" font-style="normal" transform="matrix(1,0,0,1.06,0,-13.860)" >pangenomes</text>
<line x1="186.3" y1="243.5" x2="193.3" y2="243.5" stroke="#1fbcc4" stroke-width="1.8" />
<line x1="186.3" y1="250.5" x2="193.3" y2="250.5" stroke="#f7703f" stroke-width="1.8" />
<text x="196.8" y="246.2" font-size="7.2" text-anchor="start" fill="#222" font-weight="normal" font-style="normal" textLength="70" lengthAdjust="spacingAndGlyphs" transform="matrix(1,0,0,1.06,0,-14.772)" >≤ 50k mapped reads</text>
<text x="196.8" y="253.2" font-size="7.2" text-anchor="start" fill="#222" font-weight="normal" font-style="normal" textLength="70" lengthAdjust="spacingAndGlyphs" transform="matrix(1,0,0,1.06,0,-15.192)" >&gt; 50k mapped reads</text>
<line x1="194.5" y1="255" x2="194.5" y2="271" stroke="#7a7a7a" stroke-width="0.9" />
<line x1="195" y1="271.5" x2="254" y2="271.5" stroke="#9a9a9a" stroke-width="1.1" />
<line x1="192" y1="259.5" x2="195" y2="259.5" stroke="#7a7a7a" stroke-width="0.9" />
<text x="189.6" y="262.0" font-size="7.8" text-anchor="end" fill="#222" font-weight="normal" font-style="normal" transform="matrix(1,0,0,1.06,0,-15.720)" >1.0</text>
<line x1="192" y1="265.5" x2="195" y2="265.5" stroke="#7a7a7a" stroke-width="0.9" />
<text x="189.6" y="268.1" font-size="7.8" text-anchor="end" fill="#222" font-weight="normal" font-style="normal" transform="matrix(1,0,0,1.06,0,-16.086)" >0.5</text>
<path d="M197.00,271.00 L197.11,270.48 L197.25,269.89 L197.41,269.32 L197.60,268.17 L197.80,267.27 L198.01,266.36 L198.22,265.18 L198.42,264.49 L198.62,263.76 L198.80,263.18 L198.97,262.18 L199.12,261.77 L199.28,261.16 L199.43,261.16 L199.58,260.68 L199.73,259.91 L199.89,260.11 L200.05,259.76 L200.22,259.23 L200.40,258.87 L200.59,258.26 L200.77,257.87 L200.96,257.88 L201.16,257.32 L201.36,257.13 L201.57,256.91 L201.79,256.55 L202.01,256.59 L202.25,256.36 L202.50,256.41 L202.76,256.02 L203.03,255.91 L203.32,255.66 L203.61,255.60 L203.91,255.34 L204.22,255.10 L204.53,255.42 L204.85,255.33 L205.18,255.16 L205.50,255.02 L205.83,254.76 L206.18,254.70 L206.53,254.75 L206.89,254.65 L207.25,255.11 L207.61,254.95 L207.97,255.28 L208.32,255.08 L208.67,255.50 L209.00,255.51 L209.32,255.08 L209.63,255.31 L209.94,255.84 L210.24,255.70 L210.53,256.13 L210.82,255.90 L211.12,255.83 L211.41,256.28 L211.70,256.47 L212.00,256.26 L212.28,256.23 L212.54,256.45 L212.78,256.90 L213.02,256.83 L213.26,256.50 L213.53,256.63 L213.82,256.60 L214.16,256.62 L214.55,257.12 L215.00,256.81 L215.51,257.10 L216.06,257.11 L216.64,257.04 L217.26,257.45 L217.92,257.17 L218.62,257.55 L219.36,257.29 L220.14,257.52 L220.95,257.42 L221.80,257.46 L222.71,257.86 L223.68,257.70 L224.70,257.32 L225.77,257.57 L226.86,257.06 L227.98,257.07 L229.10,257.24 L230.22,257.02 L231.32,256.61 L232.40,257.09 L233.50,256.58 L234.66,256.54 L235.85,256.79 L237.05,256.46 L238.23,256.40 L239.37,256.24 L240.44,256.26 L241.42,256.60 L242.28,256.49 L243.00,256.86 L243.55,256.94 L243.94,257.25 L244.21,257.87 L244.39,257.94 L244.50,258.38 L244.57,258.97 L244.64,258.99 L244.73,259.41 L244.88,260.31 L245.10,260.69 L245.39,260.79 L245.70,261.22 L246.04,262.03 L246.39,262.65 L246.74,262.71 L247.11,263.67 L247.47,264.15 L247.82,264.51 L248.17,264.93 L248.50,265.26 L248.83,265.78 L249.17,266.93 L249.52,267.13 L249.87,268.05 L250.21,268.42 L250.54,269.37 L250.83,269.80 L251.10,270.12 L251.32,270.48 L251.50,271.00 L250.50,271.00 L250.37,270.68 L250.20,270.25 L250.00,270.24 L249.77,269.70 L249.53,269.20 L249.27,269.19 L249.01,268.71 L248.74,268.37 L248.48,267.50 L248.23,267.22 L248.00,267.26 L247.78,266.68 L247.56,266.61 L247.34,266.14 L247.13,265.83 L246.91,265.62 L246.70,265.24 L246.48,264.46 L246.27,264.30 L246.05,264.25 L245.83,264.08 L245.60,263.67 L245.40,262.99 L245.25,262.64 L245.13,262.75 L245.02,262.38 L244.91,261.77 L244.76,261.47 L244.57,261.24 L244.32,260.84 L243.99,260.61 L243.55,260.61 L243.00,260.46 L242.31,259.97 L241.50,260.14 L240.58,260.20 L239.58,260.21 L238.52,260.23 L237.42,260.45 L236.29,260.60 L235.17,260.35 L234.06,260.44 L233.00,260.78 L232.00,260.51 L231.03,260.88 L230.06,261.22 L229.10,260.78 L228.13,260.96 L227.17,261.37 L226.23,261.14 L225.30,261.09 L224.39,261.48 L223.50,261.33 L222.63,261.27 L221.80,261.35 L220.98,261.17 L220.17,261.49 L219.37,261.21 L218.58,261.36 L217.82,261.13 L217.09,260.68 L216.38,261.06 L215.72,260.66 L215.09,260.63 L214.52,260.60 L214.00,260.48 L213.55,260.28 L213.18,260.34 L212.86,259.80 L212.60,259.90 L212.37,259.85 L212.16,259.40 L211.96,259.34 L211.76,259.24 L211.54,259.11 L211.29,259.30 L211.00,259.39 L210.67,259.32 L210.32,258.97 L209.96,259.02 L209.59,259.00 L209.20,259.01 L208.82,258.61 L208.44,258.80 L208.06,258.73 L207.69,258.74 L207.34,258.89 L207.00,258.62 L206.68,258.63 L206.36,258.96 L206.05,259.05 L205.74,258.80 L205.44,259.35 L205.15,259.17 L204.86,259.06 L204.59,259.28 L204.32,259.59 L204.05,259.85 L203.80,259.82 L203.56,260.00 L203.32,260.13 L203.10,260.40 L202.88,260.27 L202.67,260.90 L202.47,260.51 L202.27,260.90 L202.07,261.07 L201.88,261.68 L201.69,261.95 L201.50,262.11 L201.31,262.11 L201.13,262.65 L200.94,263.07 L200.77,263.12 L200.59,263.48 L200.42,264.28 L200.25,264.62 L200.09,264.96 L199.92,265.29 L199.76,265.49 L199.60,266.12 L199.44,266.29 L199.27,266.77 L199.10,267.40 L198.93,267.94 L198.76,268.48 L198.60,269.00 L198.45,269.33 L198.31,269.87 L198.19,270.48 L198.08,270.54 L198.00,271.00 Z" fill="#f7703f" stroke="#f7703f" stroke-width="0.4" stroke-linejoin="round"/>
<path d="M197.30,270.50 L197.42,270.10 L197.59,269.67 L197.78,269.09 L197.99,268.48 L198.22,267.80 L198.46,267.20 L198.70,266.38 L198.95,265.87 L199.18,265.05 L199.40,264.63 L199.61,264.18 L199.82,263.67 L200.03,263.47 L200.24,262.93 L200.45,262.72 L200.66,262.42 L200.87,261.84 L201.08,261.74 L201.29,261.40 L201.50,261.06 L201.71,260.56 L201.90,260.45 L202.10,260.27 L202.29,259.93 L202.48,259.69 L202.68,259.52 L202.89,259.32 L203.11,259.33 L203.35,259.01 L203.60,258.87 L203.87,258.79 L204.15,258.76 L204.45,258.39 L204.75,258.18 L205.07,258.38 L205.40,258.23 L205.73,258.12 L206.08,257.94 L206.43,257.77 L206.80,257.68 L207.18,257.68 L207.59,257.71 L208.02,257.55 L208.46,257.76 L208.90,257.77 L209.34,257.53 L209.78,257.84 L210.21,257.74 L210.62,257.92 L211.00,257.79 L211.35,257.95 L211.67,257.89 L211.97,258.03 L212.25,258.07 L212.53,258.00 L212.82,258.12 L213.12,258.22 L213.44,258.34 L213.80,258.36 L214.20,258.41 L214.64,258.42 L215.11,258.26 L215.60,258.14 L216.11,258.09 L216.64,258.12 L217.19,257.93 L217.76,257.76 L218.33,257.70 L218.91,257.39 L219.50,257.26 L220.10,257.19 L220.73,257.13 L221.38,257.03 L222.04,257.18 L222.71,257.23 L223.38,256.91 L224.05,257.08 L224.71,257.15 L225.36,257.08 L226.00,256.88 L226.61,257.08 L227.20,256.99 L227.77,257.03 L228.34,257.05 L228.91,257.32 L229.48,257.55 L230.07,257.37 L230.68,257.48 L231.32,257.67 L232.00,257.64 L232.73,257.87 L233.52,258.04 L234.35,258.02 L235.20,257.94 L236.06,258.02 L236.92,258.16 L237.76,258.43 L238.56,258.64 L239.31,258.63 L240.00,258.66 L240.63,258.89 L241.21,259.16 L241.75,259.28 L242.26,259.51 L242.75,259.88 L243.22,260.29 L243.67,260.38 L244.11,260.92 L244.55,261.26 L245.00,261.48 L245.44,261.81 L245.88,262.25 L246.30,262.91 L246.71,263.47 L247.11,264.01 L247.51,264.32 L247.89,264.94 L248.27,265.33 L248.64,265.94 L249.00,266.43 L249.37,266.86 L249.74,267.36 L250.12,268.20 L250.49,268.48 L250.85,269.06 L251.19,269.56 L251.50,269.99 L251.78,270.43 L252.01,270.74 L252.20,271.00" fill="none" stroke="#1fbcc4" stroke-width="1.9" stroke-linejoin="round" stroke-linecap="round"/>
<text x="267.7" y="261.1" font-size="7.6" text-anchor="middle" fill="#222" font-weight="normal" font-style="normal" transform="matrix(1,0,0,1.06,0,-15.666)" >Sc</text>
<text x="267.5" y="269.90000000000003" font-size="7.4" text-anchor="middle" fill="#222" font-weight="normal" font-style="normal" textLength="23" lengthAdjust="spacingAndGlyphs" transform="matrix(1,0,0,1.06,0,-16.194)" >(<tspan font-style="italic">n</tspan> = 24)</text>
<line x1="194.5" y1="275" x2="194.5" y2="291" stroke="#7a7a7a" stroke-width="0.9" />
<line x1="194.6" y1="290.8" x2="253.6" y2="290.8" stroke="#cfcfcf" stroke-width="2" />
<line x1="192" y1="279.5" x2="195" y2="279.5" stroke="#7a7a7a" stroke-width="0.9" />
<text x="189.6" y="282.0" font-size="7.8" text-anchor="end" fill="#222" font-weight="normal" font-style="normal" transform="matrix(1,0,0,1.06,0,-16.920)" >1.0</text>
<line x1="192" y1="285.5" x2="195" y2="285.5" stroke="#7a7a7a" stroke-width="0.9" />
<text x="189.6" y="287.8" font-size="7.8" text-anchor="end" fill="#222" font-weight="normal" font-style="normal" transform="matrix(1,0,0,1.06,0,-17.268)" >0.5</text>
<path d="M196.70,290.60 L196.82,289.92 L196.98,289.59 L197.17,288.79 L197.38,287.84 L197.61,286.77 L197.85,286.18 L198.10,285.28 L198.34,284.24 L198.58,283.46 L198.80,282.64 L199.01,281.96 L199.23,281.70 L199.44,281.40 L199.65,280.70 L199.87,280.78 L200.09,280.12 L200.31,279.80 L200.53,279.38 L200.76,279.63 L201.00,279.14 L201.24,278.88 L201.48,278.37 L201.73,277.68 L201.98,277.51 L202.24,277.28 L202.50,276.73 L202.76,276.93 L203.04,276.30 L203.31,275.92 L203.60,276.09 L203.89,275.48 L204.19,275.78 L204.48,275.34 L204.79,275.26 L205.10,275.02 L205.42,275.01 L205.75,274.75 L206.09,274.60 L206.44,275.05 L206.80,274.64 L207.17,274.96 L207.56,274.64 L207.95,275.14 L208.36,275.15 L208.77,275.15 L209.19,275.24 L209.63,275.23 L210.07,275.42 L210.53,275.17 L211.00,275.49 L211.49,275.82 L211.99,275.59 L212.51,276.19 L213.04,276.35 L213.58,276.25 L214.13,276.39 L214.68,276.60 L215.22,276.69 L215.77,277.15 L216.30,276.83 L216.81,276.61 L217.28,276.59 L217.73,276.86 L218.18,276.90 L218.63,276.45 L219.11,276.31 L219.64,276.21 L220.21,276.22 L220.86,275.84 L221.60,276.07 L222.43,276.07 L223.34,276.19 L224.33,276.03 L225.36,276.15 L226.44,276.41 L227.55,276.92 L228.68,276.73 L229.80,277.05 L230.91,277.04 L232.00,277.06 L233.11,277.18 L234.29,277.78 L235.52,277.90 L236.76,277.81 L237.98,278.15 L239.17,278.30 L240.29,278.58 L241.32,278.77 L242.23,278.59 L243.00,279.09 L243.61,279.22 L244.08,279.14 L244.43,279.44 L244.70,279.34 L244.89,279.40 L245.05,279.46 L245.18,279.99 L245.32,279.72 L245.48,279.84 L245.70,280.48 L245.95,280.68 L246.19,280.74 L246.42,281.20 L246.65,280.99 L246.88,281.38 L247.11,281.68 L247.33,282.05 L247.55,282.19 L247.78,282.43 L248.00,282.90 L248.22,283.55 L248.44,283.93 L248.66,284.12 L248.88,284.30 L249.09,284.51 L249.31,285.29 L249.53,285.40 L249.75,285.89 L249.97,285.84 L250.20,286.33 L250.44,287.11 L250.71,287.52 L250.98,288.04 L251.26,288.35 L251.54,288.72 L251.80,289.28 L252.05,289.86 L252.27,289.92 L252.46,290.37 L252.60,290.60 L251.40,290.60 L251.20,290.37 L250.95,290.17 L250.64,289.92 L250.30,289.11 L249.93,289.07 L249.55,288.77 L249.16,288.03 L248.79,287.46 L248.42,287.17 L248.09,286.70 L247.80,286.74 L247.54,286.49 L247.31,285.95 L247.08,285.61 L246.88,285.32 L246.68,285.19 L246.49,284.99 L246.30,284.79 L246.11,284.51 L245.91,284.07 L245.71,283.84 L245.50,283.65 L245.31,283.29 L245.17,283.36 L245.06,282.89 L244.96,282.93 L244.86,282.58 L244.72,282.42 L244.54,282.46 L244.30,282.47 L243.97,282.29 L243.55,281.93 L243.00,281.69 L242.32,281.66 L241.51,281.83 L240.60,281.71 L239.60,281.28 L238.54,281.56 L237.44,281.09 L236.31,281.38 L235.19,281.24 L234.08,281.05 L233.01,281.20 L232.00,280.78 L231.01,280.65 L230.00,280.58 L228.98,280.44 L227.96,280.38 L226.94,280.22 L225.95,280.44 L224.98,279.70 L224.05,279.87 L223.17,279.86 L222.35,279.86 L221.60,279.56 L220.93,279.61 L220.33,279.54 L219.79,279.35 L219.30,279.98 L218.85,279.62 L218.42,279.74 L218.01,280.16 L217.61,279.85 L217.19,280.14 L216.76,280.00 L216.30,279.97 L215.81,279.94 L215.29,279.80 L214.77,279.76 L214.24,279.66 L213.71,279.24 L213.19,278.97 L212.69,278.99 L212.21,278.74 L211.77,278.35 L211.36,278.56 L211.00,278.02 L210.69,277.84 L210.44,278.00 L210.23,278.11 L210.05,277.77 L209.89,278.09 L209.75,277.72 L209.61,277.72 L209.47,278.02 L209.31,278.17 L209.12,278.24 L208.90,277.85 L208.65,277.97 L208.38,278.01 L208.09,278.32 L207.80,278.36 L207.49,278.00 L207.18,278.28 L206.87,278.26 L206.57,278.52 L206.27,278.47 L205.98,278.71 L205.70,279.25 L205.44,279.19 L205.18,279.22 L204.92,279.65 L204.68,279.96 L204.43,279.74 L204.19,280.05 L203.95,280.64 L203.72,280.65 L203.48,280.96 L203.24,281.49 L203.00,281.81 L202.76,282.03 L202.52,282.61 L202.28,282.50 L202.05,283.39 L201.81,283.37 L201.58,284.16 L201.34,284.03 L201.11,284.52 L200.87,284.80 L200.64,285.31 L200.40,285.68 L200.15,286.53 L199.89,286.72 L199.62,287.10 L199.35,287.72 L199.07,288.25 L198.81,288.53 L198.55,289.02 L198.32,289.70 L198.11,289.80 L197.94,290.12 L197.80,290.60 Z" fill="#f7703f" stroke="#f7703f" stroke-width="0.4" stroke-linejoin="round"/>
<text x="267.7" y="280.3" font-size="7.6" text-anchor="middle" fill="#222" font-weight="normal" font-style="normal" transform="matrix(1,0,0,1.06,0,-16.818)" >Ch</text>
<text x="267.5" y="289.40000000000003" font-size="7.4" text-anchor="middle" fill="#222" font-weight="normal" font-style="normal" textLength="23" lengthAdjust="spacingAndGlyphs" transform="matrix(1,0,0,1.06,0,-17.364)" >(<tspan font-style="italic">n</tspan> = 23)</text>
<line x1="194.5" y1="295" x2="194.5" y2="313" stroke="#7a7a7a" stroke-width="0.9" />
<line x1="195" y1="312.5" x2="254" y2="312.5" stroke="#9a9a9a" stroke-width="1.1" />
<line x1="192" y1="300.5" x2="195" y2="300.5" stroke="#7a7a7a" stroke-width="0.9" />
<text x="189.6" y="303.5" font-size="7.8" text-anchor="end" fill="#222" font-weight="normal" font-style="normal" transform="matrix(1,0,0,1.06,0,-18.210)" >1.0</text>
<line x1="192" y1="306.5" x2="195" y2="306.5" stroke="#7a7a7a" stroke-width="0.9" />
<text x="189.6" y="309.20000000000005" font-size="7.8" text-anchor="end" fill="#222" font-weight="normal" font-style="normal" transform="matrix(1,0,0,1.06,0,-18.552)" >0.5</text>
<path d="M197.00,312.20 L197.22,311.83 L197.49,311.37 L197.80,310.94 L198.14,310.30 L198.52,309.57 L198.92,308.49 L199.34,308.05 L199.79,306.93 L200.24,306.05 L200.70,305.15 L201.17,304.66 L201.64,303.76 L202.10,303.22 L202.56,302.89 L203.00,302.57 L203.44,302.23 L203.91,301.58 L204.38,301.38 L204.87,301.37 L205.37,301.47 L205.87,301.60 L206.37,301.57 L206.87,301.66 L207.37,301.47 L207.85,301.52 L208.32,301.32 L208.78,301.33 L209.21,301.22 L209.62,301.34 L210.00,301.26 L210.35,301.08 L210.65,300.78 L210.93,300.59 L211.18,300.26 L211.41,300.36 L211.62,299.97 L211.83,299.82 L212.04,299.60 L212.26,299.03 L212.48,298.69 L212.72,298.55 L212.99,298.70 L213.29,298.42 L213.62,298.00 L214.00,298.07 L214.42,297.67 L214.87,297.85 L215.34,297.27 L215.85,297.56 L216.37,297.61 L216.91,297.20 L217.47,297.15 L218.03,296.88 L218.61,296.91 L219.19,296.84 L219.76,296.83 L220.34,296.65 L220.90,296.75 L221.46,296.60 L222.00,296.81 L222.54,296.72 L223.08,296.59 L223.63,297.00 L224.19,296.62 L224.74,296.75 L225.30,296.98 L225.85,296.90 L226.40,297.04 L226.94,296.85 L227.48,297.02 L228.01,296.56 L228.53,296.98 L229.03,296.76 L229.52,296.77 L230.00,297.06 L230.46,297.06 L230.90,296.83 L231.33,296.85 L231.74,296.81 L232.15,297.21 L232.54,297.03 L232.93,296.82 L233.32,297.00 L233.70,296.74 L234.07,296.89 L234.45,297.06 L234.83,297.39 L235.22,297.37 L235.60,297.25 L236.00,297.46 L236.40,297.24 L236.81,297.60 L237.22,297.88 L237.63,297.48 L238.04,298.06 L238.45,298.22 L238.86,297.98 L239.27,298.38 L239.67,298.63 L240.07,298.28 L240.47,298.64 L240.86,298.89 L241.25,299.19 L241.63,299.06 L242.00,299.55 L242.36,299.72 L242.71,300.02 L243.05,300.14 L243.38,300.42 L243.71,300.48 L244.03,300.66 L244.35,300.84 L244.67,301.05 L244.99,301.34 L245.31,301.64 L245.64,301.87 L245.96,302.05 L246.30,302.55 L246.65,303.26 L247.00,303.28 L247.38,304.16 L247.78,304.60 L248.20,304.97 L248.64,305.46 L249.09,306.53 L249.54,307.27 L249.99,307.59 L250.43,308.50 L250.86,309.24 L251.27,309.81 L251.65,310.13 L252.00,310.77 L252.31,311.56 L252.58,311.94 L252.80,312.20 L251.80,312.20 L251.68,312.27 L251.53,312.07 L251.36,311.73 L251.17,311.64 L250.97,310.96 L250.75,310.77 L250.52,310.84 L250.27,310.55 L250.02,310.10 L249.77,309.59 L249.51,309.43 L249.25,309.08 L248.99,308.53 L248.73,308.68 L248.48,308.38 L248.23,307.82 L248.00,307.89 L247.77,307.62 L247.54,307.52 L247.31,307.54 L247.07,307.17 L246.84,306.69 L246.60,307.03 L246.37,306.95 L246.13,306.87 L245.89,306.47 L245.66,306.39 L245.42,306.37 L245.18,306.19 L244.95,306.31 L244.71,305.66 L244.47,305.87 L244.24,305.47 L244.00,305.40 L243.76,305.15 L243.53,305.25 L243.29,304.90 L243.06,304.65 L242.82,304.86 L242.59,304.41 L242.35,304.17 L242.12,304.09 L241.88,303.97 L241.65,304.13 L241.41,303.99 L241.18,303.92 L240.94,303.47 L240.71,303.66 L240.47,303.16 L240.24,303.37 L240.00,302.87 L239.79,302.98 L239.64,302.57 L239.52,302.47 L239.44,302.75 L239.37,302.31 L239.31,302.15 L239.25,302.19 L239.17,302.09 L239.07,301.80 L238.93,301.57 L238.74,301.89 L238.50,301.73 L238.18,301.38 L237.78,301.42 L237.29,301.44 L236.70,301.33 L236.00,301.43 L235.15,300.96 L234.13,301.27 L232.96,300.95 L231.68,301.36 L230.30,301.46 L228.84,301.50 L227.33,301.06 L225.78,301.13 L224.22,301.24 L222.67,301.42 L221.16,301.69 L219.70,301.90 L218.32,301.77 L217.04,301.96 L215.87,301.84 L214.85,302.08 L214.00,301.98 L213.30,301.83 L212.72,301.82 L212.24,302.10 L211.86,302.21 L211.57,302.37 L211.34,302.27 L211.17,302.49 L211.05,302.23 L210.96,302.39 L210.89,302.77 L210.83,302.86 L210.77,302.49 L210.70,302.81 L210.59,302.88 L210.45,302.76 L210.26,302.67 L210.00,303.29 L209.70,303.17 L209.39,303.34 L209.07,302.89 L208.73,303.23 L208.39,302.91 L208.05,303.27 L207.69,303.28 L207.33,302.98 L206.97,303.38 L206.60,303.43 L206.23,302.99 L205.86,303.51 L205.48,303.18 L205.11,303.65 L204.74,303.84 L204.37,303.75 L204.00,304.33 L203.62,304.30 L203.23,304.67 L202.81,305.27 L202.39,305.99 L201.95,306.40 L201.51,307.01 L201.07,307.45 L200.64,308.12 L200.21,308.49 L199.80,309.17 L199.40,309.81 L199.03,310.27 L198.67,310.97 L198.35,310.98 L198.06,311.42 L197.81,311.86 L197.60,312.20 Z" fill="#1fbcc4" stroke="#1fbcc4" stroke-width="0.4" stroke-linejoin="round"/>
<path d="M197.00,312.20 L197.15,311.46 L197.33,310.95 L197.54,310.44 L197.78,309.86 L198.04,308.71 L198.31,307.82 L198.60,306.98 L198.90,306.38 L199.20,305.11 L199.50,304.58 L199.79,303.69 L200.08,302.59 L200.35,302.13 L200.60,301.47 L200.84,300.92 L201.08,300.78 L201.31,299.79 L201.54,299.33 L201.77,299.49 L202.00,298.82 L202.23,298.37 L202.45,298.15 L202.67,297.89 L202.90,297.98 L203.12,297.29 L203.35,297.06 L203.57,297.06 L203.80,296.83 L204.03,296.88 L204.25,296.64 L204.47,296.20 L204.69,295.98 L204.90,296.25 L205.12,296.25 L205.34,295.61 L205.56,295.97 L205.78,296.00 L206.01,295.84 L206.25,295.56 L206.49,295.89 L206.74,295.84 L207.00,295.52 L207.27,295.79 L207.54,295.57 L207.81,295.51 L208.10,295.74 L208.38,295.81 L208.67,295.93 L208.97,296.17 L209.27,296.38 L209.58,296.56 L209.89,296.67 L210.21,296.79 L210.53,296.77 L210.86,296.58 L211.20,296.61 L211.54,296.98 L211.87,297.05 L212.21,297.26 L212.54,297.05 L212.88,297.25 L213.23,297.83 L213.58,297.78 L213.95,297.97 L214.33,297.74 L214.72,298.04 L215.13,298.45 L215.57,298.38 L216.02,298.65 L216.50,298.22 L217.01,298.39 L217.54,298.58 L218.09,298.34 L218.67,298.49 L219.26,298.29 L219.87,297.94 L220.49,297.85 L221.12,298.29 L221.76,297.68 L222.41,297.64 L223.05,297.65 L223.71,297.81 L224.35,297.84 L225.00,297.59 L225.65,297.58 L226.30,297.73 L226.95,297.41 L227.61,297.45 L228.27,297.58 L228.94,297.59 L229.62,297.24 L230.30,297.29 L230.98,297.32 L231.68,297.70 L232.37,297.72 L233.08,297.94 L233.79,297.88 L234.50,297.65 L235.24,298.05 L236.03,298.30 L236.84,298.04 L237.68,297.98 L238.53,298.35 L239.38,298.45 L240.22,298.56 L241.05,298.65 L241.85,298.88 L242.62,299.50 L243.33,299.20 L243.99,299.72 L244.58,299.65 L245.10,299.82 L245.53,300.35 L245.88,300.17 L246.16,300.21 L246.39,300.48 L246.56,300.73 L246.70,300.73 L246.81,301.05 L246.91,300.92 L247.00,301.15 L247.11,301.47 L247.23,301.55 L247.37,301.99 L247.56,302.18 L247.80,302.38 L248.09,302.87 L248.42,303.86 L248.78,304.51 L249.16,305.38 L249.56,306.02 L249.96,306.78 L250.37,307.36 L250.77,308.60 L251.15,308.96 L251.52,309.91 L251.85,310.44 L252.15,311.20 L252.40,311.68 L252.60,312.20 L251.20,312.20 L251.04,312.09 L250.83,311.45 L250.59,311.10 L250.32,310.62 L250.03,310.22 L249.72,309.94 L249.39,308.87 L249.06,308.69 L248.73,308.21 L248.41,307.42 L248.10,307.26 L247.81,306.59 L247.54,306.37 L247.30,305.56 L247.09,305.42 L246.91,305.08 L246.75,305.10 L246.60,304.66 L246.47,304.63 L246.34,304.49 L246.22,304.08 L246.09,304.17 L245.96,304.01 L245.81,304.04 L245.64,303.67 L245.46,303.49 L245.24,303.70 L245.00,303.35 L244.73,303.53 L244.43,303.33 L244.12,302.91 L243.78,302.85 L243.43,302.75 L243.07,302.79 L242.70,302.76 L242.32,302.47 L241.93,302.23 L241.54,302.29 L241.15,302.31 L240.76,302.10 L240.38,301.93 L240.00,302.16 L239.63,302.02 L239.28,301.76 L238.93,301.91 L238.58,301.92 L238.24,301.52 L237.89,302.02 L237.53,301.75 L237.16,301.44 L236.78,301.54 L236.38,301.56 L235.95,301.38 L235.50,301.60 L235.02,301.48 L234.50,301.42 L233.94,301.67 L233.35,301.66 L232.72,301.27 L232.06,301.20 L231.38,301.55 L230.68,301.54 L229.97,301.12 L229.25,301.23 L228.52,301.49 L227.79,301.37 L227.07,301.44 L226.37,301.27 L225.67,301.01 L225.00,300.99 L224.34,301.35 L223.69,301.16 L223.04,301.15 L222.39,300.86 L221.75,301.12 L221.11,300.95 L220.47,300.74 L219.83,300.75 L219.19,301.18 L218.56,301.10 L217.92,300.74 L217.28,300.86 L216.64,301.04 L216.00,300.82 L215.34,300.95 L214.65,300.53 L213.95,301.03 L213.23,301.02 L212.51,301.12 L211.79,300.85 L211.07,301.13 L210.38,300.67 L209.71,301.13 L209.08,300.87 L208.48,301.20 L207.93,300.95 L207.43,301.08 L207.00,301.00 L206.64,301.36 L206.34,301.24 L206.10,301.17 L205.90,301.21 L205.75,301.32 L205.63,301.38 L205.53,301.25 L205.45,301.37 L205.37,301.71 L205.30,301.38 L205.21,301.95 L205.10,301.97 L204.97,301.80 L204.80,302.09 L204.61,301.99 L204.41,302.53 L204.21,302.93 L204.01,302.99 L203.80,303.13 L203.59,303.27 L203.37,303.31 L203.15,303.89 L202.92,303.95 L202.68,304.48 L202.45,304.85 L202.20,304.94 L201.95,305.50 L201.70,306.08 L201.43,306.17 L201.13,306.76 L200.81,307.01 L200.48,307.48 L200.14,308.06 L199.80,308.49 L199.46,309.30 L199.12,309.69 L198.80,310.39 L198.50,310.50 L198.23,311.34 L197.98,311.56 L197.77,312.02 L197.60,312.20 Z" fill="#f7703f" stroke="#f7703f" stroke-width="0.4" stroke-linejoin="round"/>
<text x="267.7" y="302.5" font-size="7.6" text-anchor="middle" fill="#222" font-weight="normal" font-style="normal" transform="matrix(1,0,0,1.06,0,-18.150)" >Ac</text>
<text x="267.5" y="311.20000000000005" font-size="7.4" text-anchor="middle" fill="#222" font-weight="normal" font-style="normal" textLength="23" lengthAdjust="spacingAndGlyphs" transform="matrix(1,0,0,1.06,0,-18.672)" >(<tspan font-style="italic">n</tspan> = 19)</text>
<line x1="194.5" y1="317" x2="194.5" y2="337" stroke="#7a7a7a" stroke-width="0.9" />
<line x1="195" y1="336.5" x2="254" y2="336.5" stroke="#9a9a9a" stroke-width="1.1" />
<line x1="192" y1="322.5" x2="195" y2="322.5" stroke="#7a7a7a" stroke-width="0.9" />
<text x="189.6" y="325.20000000000005" font-size="7.8" text-anchor="end" fill="#222" font-weight="normal" font-style="normal" transform="matrix(1,0,0,1.06,0,-19.512)" >1.0</text>
<line x1="192" y1="329.5" x2="195" y2="329.5" stroke="#7a7a7a" stroke-width="0.9" />
<text x="189.6" y="332.1" font-size="7.8" text-anchor="end" fill="#222" font-weight="normal" font-style="normal" transform="matrix(1,0,0,1.06,0,-19.926)" >0.5</text>
<path d="M197.00,336.40 L197.16,335.72 L197.36,334.84 L197.59,333.86 L197.86,333.24 L198.14,331.90 L198.44,330.77 L198.75,329.47 L199.07,328.17 L199.37,327.22 L199.67,326.04 L199.95,325.20 L200.20,324.30 L200.43,323.69 L200.64,322.79 L200.84,322.01 L201.04,321.45 L201.23,321.28 L201.41,320.47 L201.60,320.33 L201.80,319.91 L202.00,319.20 L202.22,319.29 L202.45,318.52 L202.70,318.72 L202.96,318.44 L203.23,317.83 L203.50,317.95 L203.77,317.80 L204.06,317.31 L204.36,317.54 L204.67,317.14 L204.99,317.56 L205.34,317.38 L205.70,317.53 L206.09,316.95 L206.50,317.09 L206.94,317.27 L207.42,317.29 L207.92,317.08 L208.44,317.58 L208.98,317.64 L209.54,317.41 L210.10,317.42 L210.67,317.83 L211.24,317.78 L211.80,318.03 L212.36,318.02 L212.90,318.04 L213.43,317.88 L213.95,318.01 L214.47,318.26 L214.99,318.48 L215.51,318.35 L216.03,318.60 L216.55,318.53 L217.08,318.79 L217.62,318.71 L218.16,318.57 L218.72,318.52 L219.30,318.54 L219.89,318.60 L220.50,319.18 L221.12,319.28 L221.74,319.31 L222.38,319.03 L223.03,319.47 L223.67,319.24 L224.32,319.78 L224.97,319.71 L225.62,319.82 L226.26,319.76 L226.90,319.65 L227.53,319.88 L228.15,319.88 L228.77,319.35 L229.38,319.35 L230.00,319.40 L230.61,319.23 L231.23,318.93 L231.86,318.81 L232.50,319.00 L233.15,318.49 L233.82,318.37 L234.50,318.61 L235.22,318.35 L235.99,318.72 L236.80,318.39 L237.64,318.77 L238.48,318.48 L239.32,318.84 L240.14,318.82 L240.93,318.88 L241.67,318.64 L242.36,318.70 L242.97,318.72 L243.50,318.91 L243.93,319.29 L244.28,319.01 L244.55,319.18 L244.77,319.44 L244.94,319.27 L245.08,319.47 L245.20,319.53 L245.31,319.95 L245.44,319.82 L245.58,320.60 L245.77,320.67 L246.00,321.13 L246.27,321.50 L246.57,322.03 L246.88,322.94 L247.21,323.57 L247.54,324.26 L247.88,324.54 L248.22,325.66 L248.56,326.65 L248.89,327.24 L249.21,327.92 L249.51,328.72 L249.80,329.11 L250.08,330.09 L250.36,330.81 L250.64,331.07 L250.91,332.02 L251.18,332.76 L251.44,333.28 L251.68,334.11 L251.91,334.86 L252.12,335.40 L252.31,335.53 L252.47,335.85 L252.60,336.40 L252.10,336.40 L251.99,335.94 L251.87,335.99 L251.72,335.39 L251.56,335.48 L251.38,335.24 L251.19,334.61 L250.98,334.35 L250.76,333.62 L250.53,333.11 L250.30,332.56 L250.05,332.56 L249.80,332.00 L249.53,331.48 L249.24,330.38 L248.93,330.06 L248.60,329.43 L248.26,328.43 L247.91,328.08 L247.57,326.93 L247.23,326.15 L246.89,325.85 L246.58,325.44 L246.28,324.52 L246.00,323.91 L245.77,323.71 L245.58,323.52 L245.44,323.62 L245.31,322.87 L245.20,322.85 L245.08,322.72 L244.94,322.88 L244.77,323.06 L244.55,322.93 L244.28,322.85 L243.93,322.47 L243.50,322.59 L242.97,322.61 L242.36,322.51 L241.67,322.30 L240.93,322.77 L240.14,322.60 L239.32,322.70 L238.48,322.87 L237.64,322.50 L236.80,322.73 L235.99,322.96 L235.22,322.64 L234.50,322.72 L233.82,322.82 L233.15,322.87 L232.50,323.26 L231.86,323.59 L231.23,323.67 L230.61,323.65 L230.00,323.62 L229.38,323.69 L228.77,324.13 L228.15,323.93 L227.53,323.93 L226.90,324.14 L226.26,324.06 L225.62,324.21 L224.97,323.87 L224.32,323.77 L223.67,323.74 L223.03,324.15 L222.38,324.04 L221.74,323.91 L221.12,323.75 L220.50,323.46 L219.89,323.73 L219.30,323.36 L218.72,323.37 L218.15,323.26 L217.59,323.31 L217.03,323.12 L216.48,322.64 L215.94,323.04 L215.41,322.64 L214.89,322.73 L214.38,322.61 L213.88,322.30 L213.38,322.15 L212.90,322.22 L212.43,322.05 L211.96,321.90 L211.50,321.85 L211.06,321.83 L210.62,322.05 L210.19,321.92 L209.77,321.93 L209.36,322.00 L208.95,321.98 L208.56,322.33 L208.18,322.41 L207.80,322.24 L207.44,322.19 L207.08,322.57 L206.74,322.36 L206.41,322.55 L206.09,322.84 L205.78,323.20 L205.47,323.18 L205.17,323.13 L204.88,323.66 L204.58,323.58 L204.29,323.83 L204.00,324.08 L203.71,324.63 L203.43,324.62 L203.16,325.00 L202.89,325.59 L202.62,325.73 L202.36,326.17 L202.10,326.70 L201.84,327.13 L201.59,328.02 L201.33,328.30 L201.06,328.63 L200.80,329.39 L200.52,329.61 L200.23,330.67 L199.92,331.38 L199.61,331.58 L199.30,332.63 L199.00,332.98 L198.71,334.11 L198.43,334.37 L198.17,335.20 L197.95,335.38 L197.75,336.08 L197.60,336.40 Z" fill="#f7703f" stroke="#f7703f" stroke-width="0.4" stroke-linejoin="round"/>
<text x="267.7" y="324.8" font-size="7.6" text-anchor="middle" fill="#222" font-weight="normal" font-style="normal" transform="matrix(1,0,0,1.06,0,-19.488)" >Vf</text>
<text x="267.5" y="335.20000000000005" font-size="7.4" text-anchor="middle" fill="#222" font-weight="normal" font-style="normal" textLength="23" lengthAdjust="spacingAndGlyphs" transform="matrix(1,0,0,1.06,0,-20.112)" >(<tspan font-style="italic">n</tspan> = 18)</text>
<line x1="194.5" y1="340" x2="194.5" y2="359" stroke="#7a7a7a" stroke-width="0.9" />
<line x1="195" y1="359.5" x2="254" y2="359.5" stroke="#9a9a9a" stroke-width="1.1" />
<line x1="192" y1="344.5" x2="195" y2="344.5" stroke="#7a7a7a" stroke-width="0.9" />
<text x="189.6" y="346.90000000000003" font-size="7.8" text-anchor="end" fill="#222" font-weight="normal" font-style="normal" transform="matrix(1,0,0,1.06,0,-20.814)" >1.0</text>
<line x1="192" y1="352.5" x2="195" y2="352.5" stroke="#7a7a7a" stroke-width="0.9" />
<text x="189.6" y="354.8" font-size="7.8" text-anchor="end" fill="#222" font-weight="normal" font-style="normal" transform="matrix(1,0,0,1.06,0,-21.288)" >0.5</text>
<path d="M197.00,359.20 L197.16,358.51 L197.36,357.96 L197.59,356.92 L197.86,356.38 L198.14,355.02 L198.44,354.15 L198.75,353.30 L199.07,351.92 L199.37,351.23 L199.67,350.13 L199.95,349.16 L200.20,348.48 L200.43,347.82 L200.64,347.10 L200.84,346.96 L201.04,346.12 L201.23,346.02 L201.41,345.53 L201.60,344.65 L201.80,344.44 L202.00,344.23 L202.22,344.11 L202.45,343.42 L202.70,343.37 L202.96,342.92 L203.23,342.89 L203.50,342.72 L203.77,342.38 L204.06,341.82 L204.36,341.96 L204.67,341.58 L204.99,341.66 L205.34,341.29 L205.70,341.43 L206.09,341.38 L206.50,341.19 L206.94,341.14 L207.42,341.11 L207.92,340.98 L208.44,340.76 L208.98,341.30 L209.54,341.05 L210.10,340.86 L210.67,341.19 L211.24,341.26 L211.80,341.20 L212.36,341.73 L212.90,341.27 L213.43,341.79 L213.95,341.62 L214.47,341.46 L214.99,341.62 L215.51,341.73 L216.03,341.58 L216.55,342.02 L217.08,342.00 L217.62,342.23 L218.16,342.17 L218.72,342.16 L219.30,342.30 L219.89,342.25 L220.50,342.06 L221.12,341.96 L221.74,341.91 L222.38,342.04 L223.03,342.05 L223.67,341.94 L224.32,341.88 L224.97,341.34 L225.62,341.53 L226.26,341.29 L226.90,341.55 L227.54,341.52 L228.18,341.48 L228.83,341.64 L229.48,341.23 L230.13,341.52 L230.78,341.41 L231.42,341.17 L232.06,341.62 L232.68,341.05 L233.30,341.29 L233.91,341.33 L234.50,341.36 L235.08,341.58 L235.67,341.32 L236.25,341.51 L236.82,341.15 L237.38,341.25 L237.94,341.05 L238.48,341.35 L239.00,341.23 L239.51,341.46 L240.00,341.08 L240.46,341.33 L240.90,341.68 L241.31,341.15 L241.68,341.58 L242.03,341.62 L242.36,341.68 L242.67,341.62 L242.96,341.64 L243.25,341.99 L243.53,341.69 L243.81,342.07 L244.10,342.22 L244.39,342.47 L244.70,342.59 L245.01,342.62 L245.33,343.41 L245.63,343.48 L245.94,344.18 L246.25,344.73 L246.56,345.07 L246.87,345.34 L247.18,346.14 L247.50,346.42 L247.83,346.98 L248.16,347.77 L248.50,348.49 L248.86,349.27 L249.26,350.07 L249.68,350.95 L250.11,352.18 L250.55,352.99 L250.99,354.23 L251.41,354.92 L251.81,355.99 L252.17,357.36 L252.50,357.80 L252.78,358.61 L253.00,359.20 L252.40,359.20 L252.21,358.79 L251.98,358.33 L251.71,357.86 L251.40,357.07 L251.07,355.97 L250.72,355.42 L250.35,354.53 L249.97,353.60 L249.60,352.81 L249.22,352.45 L248.86,351.39 L248.51,350.97 L248.19,349.87 L247.90,349.58 L247.63,349.30 L247.38,348.55 L247.14,348.25 L246.91,347.73 L246.69,347.75 L246.47,347.06 L246.26,347.19 L246.05,346.89 L245.83,346.38 L245.62,346.13 L245.40,346.42 L245.18,345.74 L244.94,345.95 L244.70,345.79 L244.45,345.61 L244.21,345.06 L243.97,344.91 L243.73,345.24 L243.49,345.15 L243.25,344.83 L243.00,344.96 L242.74,344.85 L242.47,344.76 L242.19,344.44 L241.90,344.59 L241.58,344.74 L241.25,344.62 L240.90,344.81 L240.53,344.53 L240.13,344.49 L239.72,344.73 L239.30,344.62 L238.86,344.32 L238.40,344.77 L237.94,344.69 L237.46,344.97 L236.98,344.53 L236.49,344.74 L236.00,344.94 L235.50,344.97 L235.00,344.81 L234.50,345.10 L233.99,344.76 L233.48,344.81 L232.95,344.82 L232.42,345.39 L231.87,345.46 L231.33,345.47 L230.78,345.04 L230.22,345.25 L229.66,345.48 L229.11,345.60 L228.55,345.51 L228.00,345.43 L227.45,345.72 L226.90,345.63 L226.36,345.60 L225.84,345.87 L225.32,345.32 L224.80,345.37 L224.29,345.25 L223.78,345.20 L223.26,345.45 L222.74,345.17 L222.21,345.57 L221.66,345.57 L221.10,345.02 L220.52,345.31 L219.92,345.14 L219.30,345.22 L218.64,344.93 L217.92,344.99 L217.17,345.16 L216.39,344.67 L215.59,344.86 L214.77,344.69 L213.96,344.71 L213.16,344.82 L212.38,344.34 L211.62,344.34 L210.91,344.37 L210.24,344.30 L209.64,344.49 L209.10,344.45 L208.63,344.47 L208.22,344.62 L207.86,344.42 L207.55,344.58 L207.27,344.32 L207.02,344.36 L206.80,344.38 L206.59,344.74 L206.39,344.47 L206.20,344.78 L206.00,344.75 L205.79,345.38 L205.56,345.50 L205.30,345.74 L205.03,345.97 L204.76,346.14 L204.49,346.87 L204.22,346.80 L203.95,347.32 L203.68,348.13 L203.41,348.30 L203.14,348.98 L202.86,349.52 L202.59,350.16 L202.32,350.41 L202.05,351.17 L201.77,351.70 L201.50,351.96 L201.22,352.93 L200.91,353.19 L200.60,353.98 L200.28,354.65 L199.95,355.18 L199.63,355.41 L199.31,356.02 L199.00,356.64 L198.71,356.92 L198.43,357.97 L198.18,358.24 L197.95,358.39 L197.76,358.96 L197.60,359.20 Z" fill="#f7703f" stroke="#f7703f" stroke-width="0.4" stroke-linejoin="round"/>
<text x="267.7" y="347.1" font-size="7.6" text-anchor="middle" fill="#222" font-weight="normal" font-style="normal" transform="matrix(1,0,0,1.06,0,-20.826)" >Tw</text>
<text x="267.5" y="358.0" font-size="7.4" text-anchor="middle" fill="#222" font-weight="normal" font-style="normal" textLength="23" lengthAdjust="spacingAndGlyphs" transform="matrix(1,0,0,1.06,0,-21.480)" >(<tspan font-style="italic">n</tspan> = 18)</text>
<rect x="197.5" y="362.5" width="55.0" height="8.0" fill="#e2e2e2" stroke="#555" stroke-width="0.9"/>
<text x="225.2" y="369" font-size="7.4" text-anchor="middle" fill="#222" font-weight="normal" font-style="normal" transform="matrix(1,0,0,1.06,0,-22.140)" >CDS</text>
<text x="189.3" y="369" font-size="7.6" text-anchor="start" fill="#222" font-weight="normal" font-style="normal" transform="matrix(1,0,0,1.06,0,-22.140)" >5'</text>
<text x="256" y="369" font-size="7.6" text-anchor="start" fill="#222" font-weight="normal" font-style="normal" transform="matrix(1,0,0,1.06,0,-22.140)" >3'</text>
<text x="171.3" y="301" font-size="8.6" text-anchor="middle" fill="#1a1a1a" font-weight="normal" font-style="normal" textLength="76" lengthAdjust="spacingAndGlyphs" transform="rotate(-90 171.3 301) matrix(1,0,0,1.06,0,-18.060)" >Normalized coverage</text>
<text x="313.6" y="220.6" font-size="12.6" text-anchor="start" fill="#000" font-weight="bold" font-style="normal" >g</text>
<text x="377.1" y="233.1" font-size="9" text-anchor="middle" fill="#1a1a1a" font-weight="normal" font-style="normal" textLength="74.2" lengthAdjust="spacingAndGlyphs" transform="matrix(1,0,0,1.06,0,-13.986)" >Map to <tspan font-style="italic">M.</tspan>globosa/</text>
<text x="377.1" y="242.1" font-size="9" text-anchor="middle" fill="#1a1a1a" font-weight="normal" font-style="normal" textLength="43.8" lengthAdjust="spacingAndGlyphs" transform="matrix(1,0,0,1.06,0,-14.526)" ><tspan font-style="italic">M. restricta</tspan></text>
<line x1="346.5" y1="254" x2="346.5" y2="271" stroke="#7a7a7a" stroke-width="0.9" />
<line x1="347" y1="270.5" x2="406" y2="270.5" stroke="#9a9a9a" stroke-width="1.1" />
<line x1="344" y1="257.5" x2="347" y2="257.5" stroke="#7a7a7a" stroke-width="0.9" />
<text x="339.8" y="260.20000000000005" font-size="7.8" text-anchor="end" fill="#222" font-weight="normal" font-style="normal" transform="matrix(1,0,0,1.06,0,-15.612)" >1.0</text>
<line x1="344" y1="265.5" x2="347" y2="265.5" stroke="#7a7a7a" stroke-width="0.9" />
<text x="339.8" y="267.70000000000005" font-size="7.8" text-anchor="end" fill="#222" font-weight="normal" font-style="normal" transform="matrix(1,0,0,1.06,0,-16.062)" >0.5</text>
<path d="M348.50,270.50 L348.58,270.07 L348.67,269.53 L348.78,269.21 L348.90,268.34 L349.03,267.95 L349.17,267.24 L349.33,266.32 L349.50,265.70 L349.69,265.07 L349.89,264.20 L350.10,263.54 L350.33,263.01 L350.58,262.91 L350.84,262.36 L351.12,261.71 L351.42,261.24 L351.72,260.40 L352.03,260.05 L352.35,259.69 L352.67,258.99 L352.98,258.80 L353.30,258.44 L353.60,258.26 L353.86,258.03 L354.12,257.53 L354.36,257.31 L354.62,257.30 L354.90,257.08 L355.21,257.22 L355.56,257.06 L355.97,256.50 L356.44,256.46 L357.00,256.45 L357.64,256.41 L358.36,256.12 L359.14,256.27 L359.98,255.66 L360.86,255.92 L361.78,255.88 L362.72,255.85 L363.67,255.49 L364.63,255.44 L365.57,255.55 L366.50,255.33 L367.42,255.19 L368.36,255.39 L369.31,254.84 L370.27,255.15 L371.24,254.94 L372.22,254.99 L373.20,254.44 L374.18,254.57 L375.16,254.34 L376.13,254.67 L377.10,254.53 L378.07,254.58 L379.06,254.40 L380.05,254.64 L381.04,254.53 L382.04,254.95 L383.02,255.14 L384.00,255.14 L384.96,255.40 L385.90,255.36 L386.82,255.52 L387.70,255.20 L388.56,255.46 L389.42,254.98 L390.26,255.08 L391.08,255.00 L391.89,254.74 L392.67,254.95 L393.43,255.07 L394.17,254.55 L394.88,254.73 L395.56,254.79 L396.20,254.62 L396.81,255.09 L397.40,254.82 L397.96,255.06 L398.50,255.18 L399.01,255.23 L399.49,255.57 L399.94,255.71 L400.37,256.40 L400.77,256.62 L401.15,256.60 L401.50,256.90 L401.82,256.92 L402.10,257.71 L402.35,257.53 L402.58,258.20 L402.78,258.37 L402.95,258.70 L403.11,259.08 L403.25,259.65 L403.38,259.77 L403.49,260.10 L403.60,260.39 L403.69,260.79 L403.75,261.55 L403.80,261.99 L403.82,262.24 L403.83,262.93 L403.83,262.94 L403.82,263.34 L403.81,263.72 L403.80,264.10 L403.80,264.40 L403.80,264.80 L403.80,264.80 L403.74,264.79 L403.68,264.73 L403.61,264.96 L403.54,264.82 L403.45,264.64 L403.35,264.62 L403.23,264.86 L403.10,264.76 L402.96,264.47 L402.79,264.05 L402.60,264.24 L402.38,263.50 L402.14,263.21 L401.88,262.60 L401.59,262.31 L401.29,261.72 L400.98,261.18 L400.66,260.89 L400.34,260.28 L400.02,260.09 L399.71,259.25 L399.40,259.19 L399.12,258.81 L398.86,258.90 L398.62,258.78 L398.38,258.74 L398.14,258.60 L397.89,258.51 L397.61,258.58 L397.29,258.62 L396.92,258.57 L396.49,258.65 L396.00,258.62 L395.44,258.62 L394.82,258.74 L394.15,258.68 L393.44,258.60 L392.69,258.47 L391.91,258.46 L391.10,258.86 L390.27,258.56 L389.42,258.65 L388.56,258.84 L387.70,258.73 L386.82,258.49 L385.90,258.82 L384.95,258.78 L383.98,258.44 L382.99,258.65 L381.99,258.19 L380.98,258.46 L379.97,258.24 L378.97,258.27 L377.97,258.04 L377.00,258.33 L376.03,258.06 L375.07,258.32 L374.09,258.31 L373.13,258.47 L372.16,258.08 L371.19,258.31 L370.24,258.31 L369.29,258.36 L368.35,258.72 L367.42,258.84 L366.50,258.91 L365.57,259.04 L364.61,258.75 L363.64,258.99 L362.66,258.75 L361.70,259.03 L360.77,259.42 L359.87,259.40 L359.04,259.38 L358.27,259.54 L357.59,259.72 L357.00,259.92 L356.53,260.05 L356.17,259.87 L355.90,259.94 L355.70,260.39 L355.56,260.36 L355.45,260.35 L355.36,260.48 L355.27,260.81 L355.16,260.88 L355.01,260.84 L354.80,261.41 L354.55,261.61 L354.28,262.01 L353.99,262.50 L353.70,262.57 L353.40,263.09 L353.09,263.24 L352.79,263.57 L352.50,264.02 L352.21,264.52 L351.95,264.91 L351.70,265.36 L351.46,265.93 L351.23,266.30 L351.00,267.09 L350.77,267.63 L350.56,268.05 L350.36,268.70 L350.17,268.76 L349.99,269.30 L349.84,270.16 L349.71,270.19 L349.60,270.50 Z" fill="#111" stroke="#111" stroke-width="0.4" stroke-linejoin="round"/>
<text x="419.5" y="261.4" font-size="7.6" text-anchor="middle" fill="#222" font-weight="normal" font-style="normal" transform="matrix(1,0,0,1.06,0,-15.684)" >Sc</text>
<text x="420.4" y="270.1" font-size="7.4" text-anchor="middle" fill="#222" font-weight="normal" font-style="normal" textLength="22" lengthAdjust="spacingAndGlyphs" transform="matrix(1,0,0,1.06,0,-16.206)" >(<tspan font-style="italic">n</tspan> = 18)</text>
<line x1="346.5" y1="274" x2="346.5" y2="290" stroke="#7a7a7a" stroke-width="0.9" />
<line x1="347" y1="290.5" x2="406" y2="290.5" stroke="#9a9a9a" stroke-width="1.1" />
<line x1="344" y1="278.5" x2="347" y2="278.5" stroke="#7a7a7a" stroke-width="0.9" />
<text x="339.8" y="281.0" font-size="7.8" text-anchor="end" fill="#222" font-weight="normal" font-style="normal" transform="matrix(1,0,0,1.06,0,-16.860)" >0.9</text>
<line x1="344" y1="287.5" x2="347" y2="287.5" stroke="#7a7a7a" stroke-width="0.9" />
<text x="339.8" y="289.90000000000003" font-size="7.8" text-anchor="end" fill="#222" font-weight="normal" font-style="normal" transform="matrix(1,0,0,1.06,0,-17.394)" >0.3</text>
<path d="M348.50,290.00 L348.61,289.50 L348.74,289.32 L348.89,288.60 L349.06,288.30 L349.25,287.61 L349.45,286.72 L349.67,286.46 L349.89,285.64 L350.12,285.02 L350.36,284.41 L350.60,283.99 L350.85,283.60 L351.11,283.13 L351.39,282.64 L351.68,282.26 L351.98,281.48 L352.28,280.96 L352.59,280.69 L352.90,280.26 L353.20,280.00 L353.50,279.67 L353.80,279.02 L354.07,278.86 L354.30,278.38 L354.50,278.09 L354.70,277.83 L354.90,277.58 L355.12,277.11 L355.37,276.68 L355.67,276.56 L356.03,276.26 L356.47,276.16 L357.00,275.98 L357.62,276.07 L358.33,275.56 L359.11,275.51 L359.95,275.23 L360.84,275.08 L361.76,275.23 L362.71,275.04 L363.67,275.14 L364.63,275.02 L365.58,274.94 L366.50,274.96 L367.42,274.99 L368.35,274.84 L369.29,274.72 L370.24,274.50 L371.19,274.50 L372.16,274.62 L373.13,274.11 L374.09,274.20 L375.07,274.53 L376.03,274.08 L377.00,274.06 L377.97,273.99 L378.97,274.42 L379.97,274.29 L380.98,274.31 L381.99,274.38 L382.99,274.52 L383.98,274.47 L384.95,274.23 L385.90,274.46 L386.82,274.46 L387.70,274.72 L388.56,274.81 L389.39,274.74 L390.21,274.85 L391.01,274.88 L391.79,274.84 L392.55,274.64 L393.29,274.90 L394.00,275.13 L394.69,275.11 L395.36,275.43 L396.00,275.61 L396.62,275.53 L397.22,275.86 L397.79,276.23 L398.35,276.37 L398.88,276.24 L399.39,276.62 L399.87,277.13 L400.32,277.24 L400.74,277.46 L401.14,277.69 L401.50,278.21 L401.83,278.19 L402.11,278.48 L402.37,279.30 L402.59,279.67 L402.79,279.57 L402.97,280.29 L403.12,280.78 L403.26,280.63 L403.38,281.42 L403.49,281.42 L403.60,281.99 L403.69,281.82 L403.75,282.23 L403.80,282.71 L403.82,282.71 L403.83,283.10 L403.83,283.19 L403.82,283.22 L403.81,283.61 L403.80,283.23 L403.80,283.34 L403.80,283.70 L403.80,283.90 L403.73,283.78 L403.65,283.94 L403.56,283.90 L403.45,284.29 L403.34,284.25 L403.21,284.69 L403.08,284.70 L402.94,284.80 L402.80,284.92 L402.65,285.00 L402.50,284.74 L402.35,284.48 L402.21,284.16 L402.07,283.95 L401.93,283.99 L401.78,283.77 L401.62,283.15 L401.44,282.91 L401.24,282.38 L401.03,282.33 L400.78,282.13 L400.50,281.69 L400.20,281.56 L399.89,281.06 L399.56,280.98 L399.21,280.30 L398.84,279.96 L398.44,280.20 L398.02,279.69 L397.57,279.34 L397.08,279.29 L396.56,279.10 L396.00,278.92 L395.40,278.66 L394.75,278.61 L394.08,278.04 L393.36,278.42 L392.62,278.22 L391.85,277.91 L391.05,277.67 L390.24,278.12 L389.41,277.71 L388.56,277.98 L387.70,277.86 L386.82,277.74 L385.90,277.37 L384.95,277.29 L383.98,277.37 L382.99,277.68 L381.99,277.43 L380.98,277.36 L379.97,277.38 L378.97,277.62 L377.97,277.24 L377.00,277.58 L376.03,277.40 L375.07,277.35 L374.09,277.26 L373.13,277.75 L372.16,277.37 L371.19,277.85 L370.24,277.70 L369.29,277.50 L368.35,278.08 L367.42,277.68 L366.50,278.04 L365.57,278.27 L364.61,278.43 L363.63,278.51 L362.66,278.44 L361.69,278.44 L360.75,278.41 L359.86,278.75 L359.02,278.95 L358.26,279.02 L357.58,278.97 L357.00,279.33 L356.54,279.54 L356.19,279.54 L355.94,279.36 L355.76,279.25 L355.64,279.61 L355.55,279.77 L355.49,279.40 L355.41,279.77 L355.32,279.57 L355.19,280.02 L355.00,280.09 L354.76,280.32 L354.51,280.64 L354.24,281.01 L353.96,281.44 L353.68,281.92 L353.39,282.29 L353.10,282.57 L352.81,282.88 L352.53,283.47 L352.26,283.84 L352.00,284.44 L351.74,284.77 L351.48,285.22 L351.21,285.95 L350.95,286.45 L350.69,287.07 L350.44,287.52 L350.20,288.31 L349.99,289.01 L349.80,289.36 L349.63,289.58 L349.50,290.00 Z" fill="#111" stroke="#111" stroke-width="0.4" stroke-linejoin="round"/>
<text x="419.5" y="280.1" font-size="7.6" text-anchor="middle" fill="#222" font-weight="normal" font-style="normal" transform="matrix(1,0,0,1.06,0,-16.806)" >Ch</text>
<text x="420.4" y="288.9" font-size="7.4" text-anchor="middle" fill="#222" font-weight="normal" font-style="normal" textLength="22" lengthAdjust="spacingAndGlyphs" transform="matrix(1,0,0,1.06,0,-17.334)" >(<tspan font-style="italic">n</tspan> = 18)</text>
<line x1="346.5" y1="293" x2="346.5" y2="311" stroke="#7a7a7a" stroke-width="0.9" />
<line x1="347" y1="311.5" x2="406" y2="311.5" stroke="#9a9a9a" stroke-width="1.1" />
<line x1="344" y1="298.5" x2="347" y2="298.5" stroke="#7a7a7a" stroke-width="0.9" />
<text x="339.8" y="301.20000000000005" font-size="7.8" text-anchor="end" fill="#222" font-weight="normal" font-style="normal" transform="matrix(1,0,0,1.06,0,-18.072)" >0.9</text>
<line x1="344" y1="307.5" x2="347" y2="307.5" stroke="#7a7a7a" stroke-width="0.9" />
<text x="339.8" y="310.5" font-size="7.8" text-anchor="end" fill="#222" font-weight="normal" font-style="normal" transform="matrix(1,0,0,1.06,0,-18.630)" >0.3</text>
<path d="M348.50,311.00 L348.50,310.81 L348.48,310.37 L348.45,309.53 L348.42,309.34 L348.39,308.37 L348.37,308.11 L348.37,307.25 L348.38,306.44 L348.42,306.06 L348.49,305.45 L348.60,304.56 L348.75,304.06 L348.92,303.14 L349.13,302.73 L349.37,302.04 L349.62,301.34 L349.89,300.53 L350.16,300.14 L350.45,299.44 L350.74,298.70 L351.02,298.67 L351.30,298.08 L351.57,297.49 L351.84,297.26 L352.10,297.30 L352.37,296.65 L352.65,296.75 L352.93,296.42 L353.23,296.25 L353.54,296.58 L353.87,296.36 L354.22,296.14 L354.60,295.86 L354.98,296.08 L355.33,295.98 L355.68,295.48 L356.04,295.61 L356.42,295.33 L356.84,295.52 L357.30,295.27 L357.82,295.51 L358.42,295.30 L359.11,295.16 L359.90,295.05 L360.81,295.30 L361.85,295.15 L362.99,295.16 L364.21,295.24 L365.48,295.13 L366.80,295.04 L368.13,294.87 L369.46,294.79 L370.76,294.48 L372.01,294.67 L373.20,294.83 L374.33,294.75 L375.43,294.69 L376.51,294.48 L377.57,294.33 L378.62,294.00 L379.68,293.82 L380.73,293.84 L381.79,293.63 L382.87,293.89 L383.97,293.66 L385.10,293.73 L386.29,293.71 L387.56,293.90 L388.88,293.71 L390.23,293.93 L391.58,293.96 L392.91,294.19 L394.20,294.23 L395.41,294.27 L396.53,294.47 L397.54,294.53 L398.40,294.41 L399.12,294.86 L399.71,294.80 L400.21,294.26 L400.62,294.29 L400.95,294.38 L401.23,294.05 L401.46,294.20 L401.67,294.18 L401.87,293.91 L402.07,293.93 L402.30,294.19 L402.53,294.25 L402.72,294.04 L402.90,294.29 L403.05,294.39 L403.18,294.60 L403.29,294.77 L403.39,295.12 L403.48,295.31 L403.56,295.86 L403.63,296.20 L403.70,296.66 L403.76,297.12 L403.80,297.51 L403.82,298.40 L403.84,298.82 L403.84,299.70 L403.83,300.35 L403.83,301.16 L403.82,301.88 L403.81,302.61 L403.80,302.92 L403.80,303.30 L403.80,303.30 L403.74,303.39 L403.68,303.14 L403.60,303.27 L403.52,303.07 L403.43,303.29 L403.32,303.51 L403.21,303.35 L403.09,303.36 L402.96,303.32 L402.82,303.28 L402.66,303.04 L402.50,302.89 L402.32,302.45 L402.11,302.39 L401.88,302.01 L401.64,301.59 L401.38,300.87 L401.12,300.20 L400.86,300.25 L400.61,299.28 L400.36,299.15 L400.12,298.94 L399.90,298.36 L399.70,298.36 L399.56,298.19 L399.48,297.77 L399.46,297.87 L399.47,297.60 L399.49,297.90 L399.49,297.50 L399.45,297.59 L399.36,297.79 L399.19,297.69 L398.92,297.59 L398.53,297.82 L398.00,297.78 L397.31,297.82 L396.48,297.70 L395.52,297.76 L394.47,297.54 L393.33,297.47 L392.14,297.44 L390.92,297.75 L389.68,297.54 L388.44,297.71 L387.24,297.93 L386.08,297.51 L385.00,297.97 L383.98,297.90 L382.99,297.48 L382.02,298.00 L381.07,297.90 L380.13,297.62 L379.19,297.82 L378.23,297.67 L377.26,297.74 L376.26,298.30 L375.22,297.82 L374.14,298.35 L373.00,298.45 L371.77,298.17 L370.42,298.32 L368.99,298.48 L367.50,298.31 L365.98,298.31 L364.47,298.76 L362.98,298.38 L361.56,298.73 L360.21,298.63 L358.99,298.60 L357.91,298.86 L357.00,299.14 L356.27,298.95 L355.68,299.33 L355.22,299.00 L354.87,299.15 L354.60,299.20 L354.41,299.60 L354.25,299.34 L354.13,299.96 L354.01,299.59 L353.88,299.75 L353.72,300.15 L353.50,300.15 L353.25,300.51 L353.02,300.72 L352.79,300.83 L352.56,300.94 L352.35,300.76 L352.14,301.09 L351.93,301.14 L351.74,301.33 L351.55,301.55 L351.36,301.84 L351.18,302.41 L351.00,302.47 L350.82,302.97 L350.65,303.91 L350.48,304.61 L350.31,305.60 L350.15,306.22 L349.99,307.11 L349.85,307.99 L349.71,308.85 L349.59,309.10 L349.48,310.15 L349.38,310.51 L349.30,311.00 Z" fill="#111" stroke="#111" stroke-width="0.4" stroke-linejoin="round"/>
<text x="419.5" y="303.1" font-size="7.6" text-anchor="middle" fill="#222" font-weight="normal" font-style="normal" transform="matrix(1,0,0,1.06,0,-18.186)" >Ac</text>
<text x="420.4" y="311" font-size="7.4" text-anchor="middle" fill="#222" font-weight="normal" font-style="normal" textLength="22" lengthAdjust="spacingAndGlyphs" transform="matrix(1,0,0,1.06,0,-18.660)" >(<tspan font-style="italic">n</tspan> = 16)</text>
<line x1="346.5" y1="315" x2="346.5" y2="335" stroke="#7a7a7a" stroke-width="0.9" />
<line x1="347" y1="335.5" x2="406" y2="335.5" stroke="#9a9a9a" stroke-width="1.1" />
<line x1="344" y1="320.5" x2="347" y2="320.5" stroke="#7a7a7a" stroke-width="0.9" />
<text x="339.8" y="322.8" font-size="7.8" text-anchor="end" fill="#222" font-weight="normal" font-style="normal" transform="matrix(1,0,0,1.06,0,-19.368)" >1.0</text>
<line x1="344" y1="331.5" x2="347" y2="331.5" stroke="#7a7a7a" stroke-width="0.9" />
<text x="339.8" y="334.0" font-size="7.8" text-anchor="end" fill="#222" font-weight="normal" font-style="normal" transform="matrix(1,0,0,1.06,0,-20.040)" >0.5</text>
<path d="M348.60,335.00 L348.69,334.30 L348.81,333.41 L348.94,332.13 L349.09,331.26 L349.26,329.74 L349.44,328.58 L349.62,327.49 L349.81,326.71 L350.00,325.58 L350.19,324.91 L350.39,324.42 L350.60,324.06 L350.81,323.87 L351.04,323.80 L351.27,323.09 L351.50,323.14 L351.75,322.95 L352.00,322.44 L352.25,322.14 L352.51,321.64 L352.77,321.59 L353.04,321.42 L353.32,321.21 L353.61,320.58 L353.92,320.79 L354.25,320.42 L354.60,319.99 L354.98,319.88 L355.37,319.63 L355.78,319.66 L356.21,319.49 L356.66,319.37 L357.12,319.60 L357.60,319.15 L358.09,319.23 L358.60,319.47 L359.12,319.25 L359.67,318.82 L360.22,318.52 L360.80,318.81 L361.38,318.67 L361.99,318.38 L362.61,318.35 L363.25,318.03 L363.90,318.04 L364.56,317.73 L365.23,317.35 L365.90,317.55 L366.60,316.97 L367.31,317.03 L368.05,316.74 L368.83,316.57 L369.64,316.71 L370.50,316.66 L371.39,316.31 L372.31,316.20 L373.26,316.38 L374.23,315.90 L375.25,315.98 L376.31,316.18 L377.42,316.00 L378.58,316.17 L379.80,315.75 L381.14,315.67 L382.62,316.18 L384.20,316.22 L385.83,315.81 L387.45,316.36 L389.03,316.16 L390.52,316.46 L391.85,316.48 L393.00,316.49 L393.95,316.37 L394.76,316.54 L395.46,316.42 L396.05,316.92 L396.57,316.94 L397.04,316.96 L397.49,316.85 L397.93,317.29 L398.40,317.13 L398.86,317.15 L399.29,317.35 L399.68,317.53 L400.05,318.20 L400.40,318.11 L400.73,318.37 L401.05,318.41 L401.38,319.09 L401.70,319.39 L402.03,319.37 L402.36,319.74 L402.68,319.85 L402.99,320.41 L403.29,320.64 L403.58,321.15 L403.84,321.77 L404.09,322.00 L404.30,322.40 L404.49,323.03 L404.65,323.83 L404.79,324.78 L404.91,325.16 L405.01,326.10 L405.10,326.63 L405.18,327.61 L405.24,328.25 L405.30,328.50 L405.30,328.50 L405.22,328.27 L405.12,328.28 L405.00,328.26 L404.87,328.01 L404.72,327.74 L404.56,327.15 L404.38,326.76 L404.20,326.47 L404.00,326.39 L403.79,325.86 L403.58,325.37 L403.34,325.25 L403.10,324.50 L402.85,324.15 L402.58,323.84 L402.30,323.37 L402.00,322.94 L401.70,322.53 L401.39,322.17 L401.07,321.75 L400.75,321.61 L400.42,320.88 L400.07,321.14 L399.69,320.51 L399.29,320.34 L398.86,320.32 L398.40,319.89 L397.90,319.79 L397.37,319.80 L396.81,319.75 L396.23,319.77 L395.62,319.39 L395.00,319.54 L394.35,319.65 L393.68,319.59 L393.00,319.14 L392.33,319.28 L391.67,319.30 L391.01,319.20 L390.33,319.01 L389.61,319.23 L388.84,319.15 L387.99,319.07 L387.05,319.30 L386.00,319.37 L384.78,319.04 L383.39,319.24 L381.87,318.92 L380.28,318.91 L378.66,319.21 L377.07,319.33 L375.57,319.42 L374.19,319.00 L373.00,319.57 L371.98,319.16 L371.07,319.27 L370.26,319.70 L369.53,319.44 L368.86,319.89 L368.24,319.94 L367.65,320.20 L367.08,319.94 L366.50,319.93 L365.95,320.41 L365.44,320.35 L364.98,320.61 L364.55,320.93 L364.13,320.88 L363.73,320.98 L363.33,321.30 L362.93,321.21 L362.50,321.24 L362.06,321.91 L361.63,321.95 L361.20,321.83 L360.77,321.94 L360.33,322.37 L359.90,322.66 L359.47,322.96 L359.04,323.09 L358.60,323.36 L358.15,323.66 L357.69,323.98 L357.22,324.30 L356.75,324.40 L356.29,325.07 L355.83,325.26 L355.40,325.91 L354.98,326.30 L354.60,326.57 L354.25,326.90 L353.93,327.52 L353.64,327.68 L353.36,328.39 L353.09,328.49 L352.83,328.96 L352.56,329.41 L352.29,330.20 L352.00,330.53 L351.68,330.83 L351.34,331.36 L350.98,332.40 L350.62,332.59 L350.26,333.04 L349.93,333.77 L349.64,334.47 L349.39,334.90 L349.20,335.00 Z" fill="#111" stroke="#111" stroke-width="0.4" stroke-linejoin="round"/>
<text x="419.5" y="325" font-size="7.6" text-anchor="middle" fill="#222" font-weight="normal" font-style="normal" transform="matrix(1,0,0,1.06,0,-19.500)" >Vf</text>
<text x="420.4" y="332.9" font-size="7.4" text-anchor="middle" fill="#222" font-weight="normal" font-style="normal" textLength="22" lengthAdjust="spacingAndGlyphs" transform="matrix(1,0,0,1.06,0,-19.974)" >(<tspan font-style="italic">n</tspan> = 7)</text>
<line x1="346.5" y1="339" x2="346.5" y2="359" stroke="#7a7a7a" stroke-width="0.9" />
<line x1="347" y1="359.5" x2="406" y2="359.5" stroke="#9a9a9a" stroke-width="1.1" />
<line x1="344" y1="342.5" x2="347" y2="342.5" stroke="#7a7a7a" stroke-width="0.9" />
<text x="339.8" y="345.40000000000003" font-size="7.8" text-anchor="end" fill="#222" font-weight="normal" font-style="normal" transform="matrix(1,0,0,1.06,0,-20.724)" >1.0</text>
<line x1="344" y1="353.5" x2="347" y2="353.5" stroke="#7a7a7a" stroke-width="0.9" />
<text x="339.8" y="355.90000000000003" font-size="7.8" text-anchor="end" fill="#222" font-weight="normal" font-style="normal" transform="matrix(1,0,0,1.06,0,-21.354)" >0.6</text>
<path d="M348.9,358.9 L352,349.8 L355.2,343.7 L358.2,342.8 L360.8,343.3 L364.3,341 L367.8,341.4 L370.4,340.7 L373,341.9 L375.7,343.7 L378.3,343.3 L381.8,341.9 L384.5,340.1 L387.1,339.6 L389.7,341 L393.2,341.9 L396.7,342.8 L400.2,344.5 L402.9,348 L405.5,351.5" fill="none" stroke="#111" stroke-width="1.3" stroke-linejoin="round"/>
<text x="419.5" y="348" font-size="7.6" text-anchor="middle" fill="#222" font-weight="normal" font-style="normal" transform="matrix(1,0,0,1.06,0,-20.880)" >Tw</text>
<text x="420.4" y="357.7" font-size="7.4" text-anchor="middle" fill="#222" font-weight="normal" font-style="normal" textLength="19" lengthAdjust="spacingAndGlyphs" transform="matrix(1,0,0,1.06,0,-21.462)" >(<tspan font-style="italic">n</tspan> = 1)</text>
<rect x="348.5" y="362.5" width="58.0" height="8.0" fill="#e2e2e2" stroke="#555" stroke-width="0.9"/>
<text x="378.7" y="369" font-size="7.4" text-anchor="middle" fill="#222" font-weight="normal" font-style="normal" transform="matrix(1,0,0,1.06,0,-22.140)" >CDS</text>
<text x="340.4" y="369" font-size="7.6" text-anchor="start" fill="#222" font-weight="normal" font-style="normal" transform="matrix(1,0,0,1.06,0,-22.140)" >5'</text>
<text x="409.5" y="369" font-size="7.6" text-anchor="start" fill="#222" font-weight="normal" font-style="normal" transform="matrix(1,0,0,1.06,0,-22.140)" >3'</text>
<text x="321.8" y="302.6" font-size="8.6" text-anchor="middle" fill="#1a1a1a" font-weight="normal" font-style="normal" textLength="78" lengthAdjust="spacingAndGlyphs" transform="rotate(-90 321.8 302.6) matrix(1,0,0,1.06,0,-18.156)" >Normalized coverage</text>
<text x="465.1" y="220.8" font-size="12.6" text-anchor="start" fill="#000" font-weight="bold" font-style="normal" >h</text>
<text x="483" y="235" font-size="9" text-anchor="start" fill="#1a1a1a" font-weight="normal" font-style="normal" textLength="187" lengthAdjust="spacingAndGlyphs" transform="matrix(1,0,0,1.06,0,-14.100)" >Mapping to genomic regions of <tspan font-style="italic">M. globosa</tspan> (%)</text>
<rect x="495.5" y="241.5" width="52.0" height="7.0" fill="#fff" stroke="#444" stroke-width="0.9"/>
<text x="521.5" y="247.4" font-size="7.4" text-anchor="middle" fill="#222" font-weight="normal" font-style="normal" transform="matrix(1,0,0,1.06,0,-14.844)" >Intergenic</text>
<rect x="549.5" y="241.5" width="52.0" height="7.0" fill="#fff" stroke="#444" stroke-width="0.9"/>
<text x="575.6" y="247.4" font-size="7.4" text-anchor="middle" fill="#222" font-weight="normal" font-style="normal" transform="matrix(1,0,0,1.06,0,-14.844)" >Intronic</text>
<rect x="604.5" y="241.5" width="52.0" height="7.0" fill="#fff" stroke="#444" stroke-width="0.9"/>
<text x="630.3" y="247.4" font-size="7.4" text-anchor="middle" fill="#222" font-weight="normal" font-style="normal" transform="matrix(1,0,0,1.06,0,-14.844)" >mRNA</text>
<line x1="495.5" y1="248" x2="495.5" y2="354" stroke="#7a7a7a" stroke-width="1" />
<line x1="493" y1="350.5" x2="496" y2="350.5" stroke="#7a7a7a" stroke-width="1" />
<text x="490.2" y="353.0" font-size="7.8" text-anchor="end" fill="#222" font-weight="normal" font-style="normal" transform="matrix(1,0,0,1.06,0,-21.180)" >0</text>
<line x1="493" y1="327.5" x2="496" y2="327.5" stroke="#7a7a7a" stroke-width="1" />
<text x="490.2" y="330.16" font-size="7.8" text-anchor="end" fill="#222" font-weight="normal" font-style="normal" transform="matrix(1,0,0,1.06,0,-19.810)" >20</text>
<line x1="493" y1="304.5" x2="496" y2="304.5" stroke="#7a7a7a" stroke-width="1" />
<text x="490.2" y="307.32" font-size="7.8" text-anchor="end" fill="#222" font-weight="normal" font-style="normal" transform="matrix(1,0,0,1.06,0,-18.439)" >40</text>
<line x1="493" y1="281.5" x2="496" y2="281.5" stroke="#7a7a7a" stroke-width="1" />
<text x="490.2" y="284.48" font-size="7.8" text-anchor="end" fill="#222" font-weight="normal" font-style="normal" transform="matrix(1,0,0,1.06,0,-17.069)" >60</text>
<line x1="493" y1="259.5" x2="496" y2="259.5" stroke="#7a7a7a" stroke-width="1" />
<text x="490.2" y="261.64" font-size="7.8" text-anchor="end" fill="#222" font-weight="normal" font-style="normal" transform="matrix(1,0,0,1.06,0,-15.698)" >80</text>
<line x1="496" y1="354.5" x2="548" y2="354.5" stroke="#7a7a7a" stroke-width="1" />
<line x1="509.5" y1="354" x2="509.5" y2="357" stroke="#7a7a7a" stroke-width="1" />
<text x="509.90000000000003" y="366.9" font-size="7.8" text-anchor="middle" fill="#222" font-weight="normal" font-style="normal" textLength="12.8" lengthAdjust="spacingAndGlyphs" transform="matrix(1,0,0,1.06,0,-22.014)" >This</text>
<text x="509.90000000000003" y="374.9" font-size="7.8" text-anchor="middle" fill="#222" font-weight="normal" font-style="normal" textLength="18.1" lengthAdjust="spacingAndGlyphs" transform="matrix(1,0,0,1.06,0,-22.494)" >study</text>
<line x1="533.5" y1="354" x2="533.5" y2="357" stroke="#7a7a7a" stroke-width="1" />
<text x="536.0" y="366.9" font-size="7.8" text-anchor="middle" fill="#222" font-weight="normal" font-style="normal" textLength="28" lengthAdjust="spacingAndGlyphs" transform="matrix(1,0,0,1.06,0,-22.014)" >Wu et al.</text>
<text x="536.0" y="374.9" font-size="7.8" text-anchor="middle" fill="#222" font-weight="normal" font-style="normal" textLength="15.2" lengthAdjust="spacingAndGlyphs" transform="matrix(1,0,0,1.06,0,-22.494)" >2015</text>
<line x1="550" y1="354.5" x2="602" y2="354.5" stroke="#7a7a7a" stroke-width="1" />
<line x1="564.5" y1="354" x2="564.5" y2="357" stroke="#7a7a7a" stroke-width="1" />
<text x="564.3" y="366.9" font-size="7.8" text-anchor="middle" fill="#222" font-weight="normal" font-style="normal" textLength="12.8" lengthAdjust="spacingAndGlyphs" transform="matrix(1,0,0,1.06,0,-22.014)" >This</text>
<text x="564.3" y="374.9" font-size="7.8" text-anchor="middle" fill="#222" font-weight="normal" font-style="normal" textLength="18.1" lengthAdjust="spacingAndGlyphs" transform="matrix(1,0,0,1.06,0,-22.494)" >study</text>
<line x1="588.5" y1="354" x2="588.5" y2="357" stroke="#7a7a7a" stroke-width="1" />
<text x="590.4" y="366.9" font-size="7.8" text-anchor="middle" fill="#222" font-weight="normal" font-style="normal" textLength="28" lengthAdjust="spacingAndGlyphs" transform="matrix(1,0,0,1.06,0,-22.014)" >Wu et al.</text>
<text x="590.4" y="374.9" font-size="7.8" text-anchor="middle" fill="#222" font-weight="normal" font-style="normal" textLength="15.2" lengthAdjust="spacingAndGlyphs" transform="matrix(1,0,0,1.06,0,-22.494)" >2015</text>
<line x1="604" y1="354.5" x2="657" y2="354.5" stroke="#7a7a7a" stroke-width="1" />
<line x1="618.5" y1="354" x2="618.5" y2="357" stroke="#7a7a7a" stroke-width="1" />
<text x="618.3" y="366.9" font-size="7.8" text-anchor="middle" fill="#222" font-weight="normal" font-style="normal" textLength="12.8" lengthAdjust="spacingAndGlyphs" transform="matrix(1,0,0,1.06,0,-22.014)" >This</text>
<text x="618.3" y="374.9" font-size="7.8" text-anchor="middle" fill="#222" font-weight="normal" font-style="normal" textLength="18.1" lengthAdjust="spacingAndGlyphs" transform="matrix(1,0,0,1.06,0,-22.494)" >study</text>
<line x1="642.5" y1="354" x2="642.5" y2="357" stroke="#7a7a7a" stroke-width="1" />
<text x="644.4" y="366.9" font-size="7.8" text-anchor="middle" fill="#222" font-weight="normal" font-style="normal" textLength="28" lengthAdjust="spacingAndGlyphs" transform="matrix(1,0,0,1.06,0,-22.014)" >Wu et al.</text>
<text x="644.4" y="374.9" font-size="7.8" text-anchor="middle" fill="#222" font-weight="normal" font-style="normal" textLength="15.2" lengthAdjust="spacingAndGlyphs" transform="matrix(1,0,0,1.06,0,-22.494)" >2015</text>
<line x1="510.5" y1="322" x2="510.5" y2="327" stroke="#a0a0a0" stroke-width="1" />
<line x1="510.5" y1="332" x2="510.5" y2="334" stroke="#a0a0a0" stroke-width="1" />
<rect x="501.5" y="327.5" width="18.0" height="4.0" fill="none" stroke="#7c7c7c" stroke-width="1"/>
<line x1="501" y1="330.5" x2="519" y2="330.5" stroke="#3c3c3c" stroke-width="1.2" />
<circle cx="509.6" cy="312.6" r="0.95" fill="#222"/>
<circle cx="509.6" cy="320" r="0.95" fill="#222"/>
<line x1="524" y1="321.5" x2="543" y2="321.5" stroke="#444" stroke-width="1.3" />
<circle cx="533.6" cy="318.4" r="0.8" fill="#222"/>
<line x1="555" y1="350.5" x2="573" y2="350.5" stroke="#333" stroke-width="1.2" />
<circle cx="564" cy="350.4" r="1" fill="#222"/>
<line x1="579" y1="350.5" x2="597" y2="350.5" stroke="#aaa" stroke-width="1.2" />
<circle cx="588" cy="350.4" r="0.9" fill="#222"/>
<line x1="618.5" y1="253" x2="618.5" y2="256" stroke="#a0a0a0" stroke-width="1" />
<line x1="618.5" y1="260" x2="618.5" y2="267" stroke="#a0a0a0" stroke-width="1" />
<rect x="609.5" y="256.5" width="18.0" height="4.0" fill="none" stroke="#7c7c7c" stroke-width="1"/>
<line x1="609" y1="258.5" x2="627" y2="258.5" stroke="#3c3c3c" stroke-width="1.2" />
<circle cx="618" cy="268.8" r="0.95" fill="#222"/>
<circle cx="618" cy="275.6" r="0.95" fill="#222"/>
<line x1="633" y1="266.5" x2="651" y2="266.5" stroke="#333" stroke-width="1.3" />
<circle cx="641.6" cy="269.6" r="0.8" fill="#222"/>
<text x="474" y="301.4" font-size="8.8" text-anchor="middle" fill="#1a1a1a" font-weight="normal" font-style="normal" textLength="80.8" lengthAdjust="spacingAndGlyphs" transform="rotate(-90 474 301.4) matrix(1,0,0,1.06,0,-18.084)" >Percentage mapped</text>
</svg></body></html>
